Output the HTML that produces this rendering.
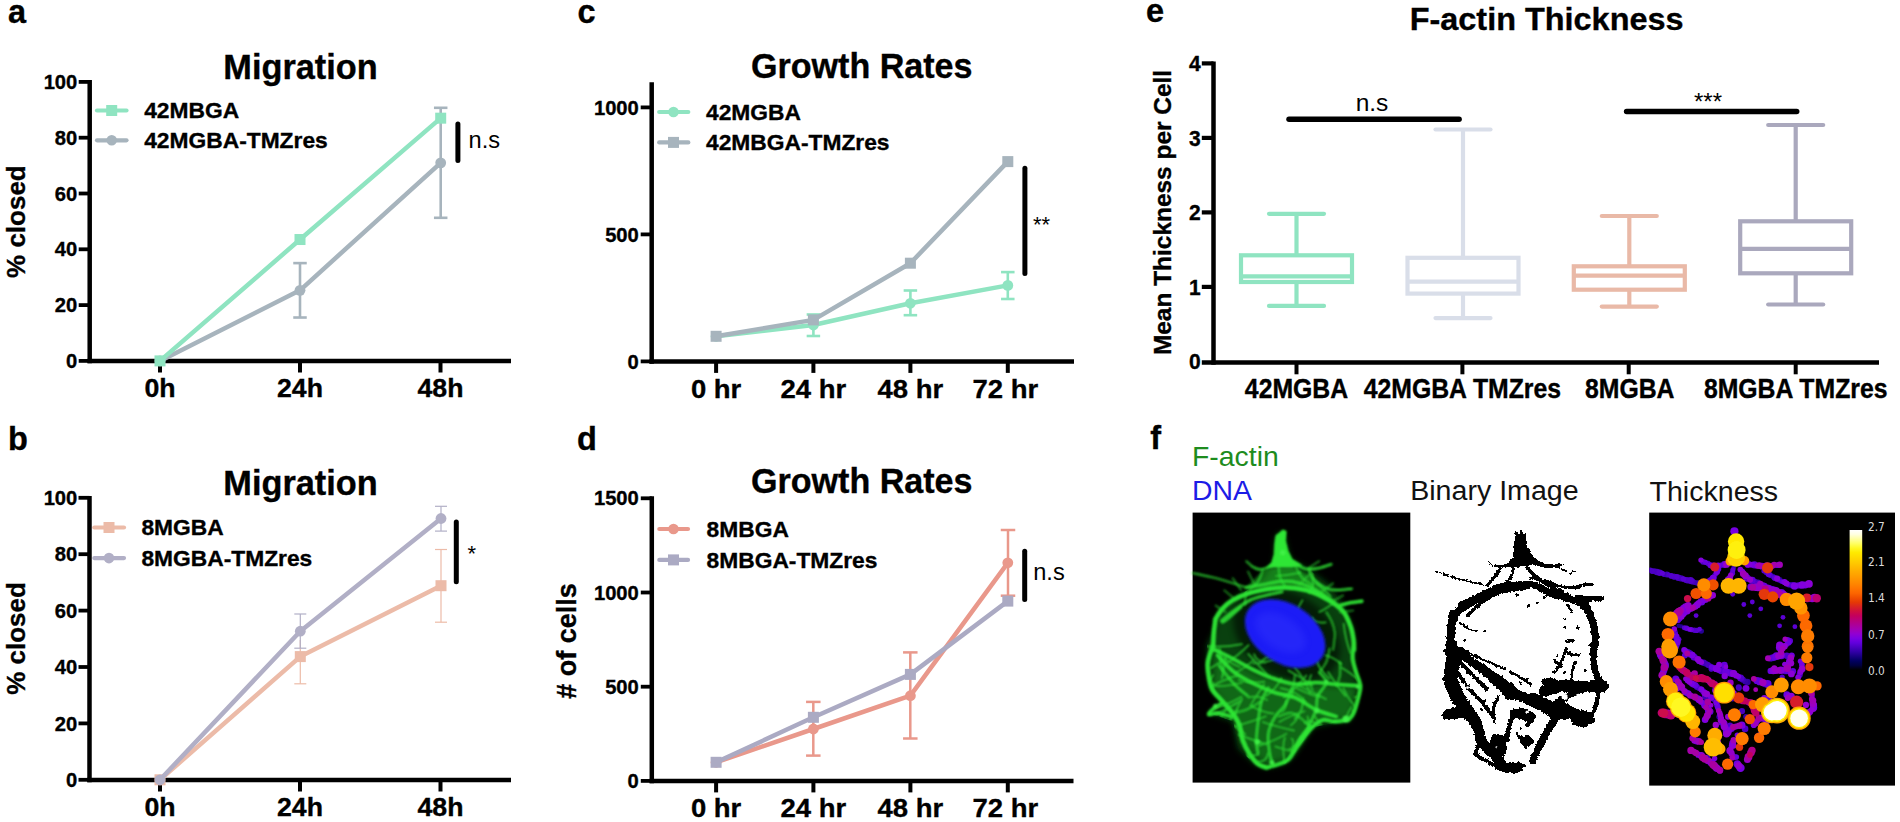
<!DOCTYPE html>
<html lang="en">
<head>
<meta charset="utf-8">
<title>Figure</title>
<style>
html,body{margin:0;padding:0;background:#fff;}
body{width:1900px;height:822px;overflow:hidden;}
svg{display:block;font-family:"Liberation Sans", sans-serif;}
</style>
</head>
<body>
<svg width="1900" height="822" viewBox="0 0 1900 822">
<rect width="1900" height="822" fill="#fff"/>
<text transform="translate(8 22.7) scale(1 1.045)" font-size="32.5" font-weight="bold" text-anchor="start" fill="#000" stroke="#000" stroke-width="0.35">a</text>
<text transform="translate(300.5 78.6) scale(1 1.04)" font-size="34.3" font-weight="bold" text-anchor="middle" fill="#000" stroke="#000" stroke-width="0.35">Migration</text>
<line x1="89.70" y1="80.00" x2="89.70" y2="363.25" stroke="#000" stroke-width="4.5" stroke-linecap="butt"/>
<line x1="87.45" y1="361.00" x2="511.00" y2="361.00" stroke="#000" stroke-width="4.5" stroke-linecap="butt"/>
<line x1="78.70" y1="360.90" x2="89.70" y2="360.90" stroke="#000" stroke-width="3.8" stroke-linecap="butt"/>
<text transform="translate(77.3 368.0) scale(1 0.99)" font-size="20.2" font-weight="bold" text-anchor="end" fill="#000" stroke="#000" stroke-width="0.35">0</text>
<line x1="78.70" y1="305.10" x2="89.70" y2="305.10" stroke="#000" stroke-width="3.8" stroke-linecap="butt"/>
<text transform="translate(77.3 312.2) scale(1 0.99)" font-size="20.2" font-weight="bold" text-anchor="end" fill="#000" stroke="#000" stroke-width="0.35">20</text>
<line x1="78.70" y1="249.30" x2="89.70" y2="249.30" stroke="#000" stroke-width="3.8" stroke-linecap="butt"/>
<text transform="translate(77.3 256.4) scale(1 0.99)" font-size="20.2" font-weight="bold" text-anchor="end" fill="#000" stroke="#000" stroke-width="0.35">40</text>
<line x1="78.70" y1="193.50" x2="89.70" y2="193.50" stroke="#000" stroke-width="3.8" stroke-linecap="butt"/>
<text transform="translate(77.3 200.59999999999997) scale(1 0.99)" font-size="20.2" font-weight="bold" text-anchor="end" fill="#000" stroke="#000" stroke-width="0.35">60</text>
<line x1="78.70" y1="137.70" x2="89.70" y2="137.70" stroke="#000" stroke-width="3.8" stroke-linecap="butt"/>
<text transform="translate(77.3 144.79999999999998) scale(1 0.99)" font-size="20.2" font-weight="bold" text-anchor="end" fill="#000" stroke="#000" stroke-width="0.35">80</text>
<line x1="78.70" y1="81.90" x2="89.70" y2="81.90" stroke="#000" stroke-width="3.8" stroke-linecap="butt"/>
<text transform="translate(77.3 88.99999999999997) scale(1 0.99)" font-size="20.2" font-weight="bold" text-anchor="end" fill="#000" stroke="#000" stroke-width="0.35">100</text>
<line x1="160.00" y1="361.00" x2="160.00" y2="372.50" stroke="#000" stroke-width="4" stroke-linecap="butt"/>
<text transform="translate(160 397.4) scale(1 0.957)" font-size="26.7" font-weight="bold" text-anchor="middle" fill="#000" stroke="#000" stroke-width="0.35">0h</text>
<line x1="300.00" y1="361.00" x2="300.00" y2="372.50" stroke="#000" stroke-width="4" stroke-linecap="butt"/>
<text transform="translate(300 397.4) scale(1 0.957)" font-size="26.7" font-weight="bold" text-anchor="middle" fill="#000" stroke="#000" stroke-width="0.35">24h</text>
<line x1="440.50" y1="361.00" x2="440.50" y2="372.50" stroke="#000" stroke-width="4" stroke-linecap="butt"/>
<text transform="translate(440.5 397.4) scale(1 0.957)" font-size="26.7" font-weight="bold" text-anchor="middle" fill="#000" stroke="#000" stroke-width="0.35">48h</text>
<text transform="translate(24.5 221.6) rotate(-90) scale(1 1.02)" font-size="26" font-weight="bold" text-anchor="middle" fill="#000" stroke="#000" stroke-width="0.35">% closed</text>
<line x1="300.00" y1="263.11" x2="300.00" y2="317.52" stroke="#a7b4bd" stroke-width="2.6" stroke-linecap="butt"/>
<line x1="293.25" y1="263.11" x2="306.75" y2="263.11" stroke="#a7b4bd" stroke-width="2.6" stroke-linecap="butt"/>
<line x1="293.25" y1="317.52" x2="306.75" y2="317.52" stroke="#a7b4bd" stroke-width="2.6" stroke-linecap="butt"/>
<line x1="440.70" y1="107.80" x2="440.70" y2="217.80" stroke="#a7b4bd" stroke-width="2.6" stroke-linecap="butt"/>
<line x1="433.95" y1="107.80" x2="447.45" y2="107.80" stroke="#a7b4bd" stroke-width="2.6" stroke-linecap="butt"/>
<line x1="433.95" y1="217.80" x2="447.45" y2="217.80" stroke="#a7b4bd" stroke-width="2.6" stroke-linecap="butt"/>
<polyline points="160.00,360.90 300.00,290.31 440.70,162.81" fill="none" stroke="#a7b4bd" stroke-width="4.5" stroke-linejoin="round"/>
<circle cx="160.00" cy="360.90" r="5.4" fill="#a7b4bd"/>
<circle cx="300.00" cy="290.31" r="5.4" fill="#a7b4bd"/>
<circle cx="440.70" cy="162.81" r="5.4" fill="#a7b4bd"/>
<polyline points="160.00,360.90 300.00,239.53 440.70,118.17" fill="none" stroke="#8fe4c1" stroke-width="4.5" stroke-linejoin="round"/>
<rect x="154.50" y="355.40" width="11" height="11" fill="#8fe4c1"/>
<rect x="294.50" y="234.03" width="11" height="11" fill="#8fe4c1"/>
<rect x="435.20" y="112.67" width="11" height="11" fill="#8fe4c1"/>
<line x1="97.00" y1="110.50" x2="126.50" y2="110.50" stroke="#8fe4c1" stroke-width="4.2" stroke-linecap="round"/>
<rect x="106.20" y="105.00" width="11" height="11" fill="#8fe4c1"/>
<text transform="translate(144.2 118.1) scale(1 0.96)" font-size="22.8" font-weight="bold" text-anchor="start" fill="#000" stroke="#000" stroke-width="0.35">42MBGA</text>
<line x1="97.00" y1="140.30" x2="126.50" y2="140.30" stroke="#a7b4bd" stroke-width="4.2" stroke-linecap="round"/>
<circle cx="111.70" cy="140.30" r="5.3" fill="#a7b4bd"/>
<text transform="translate(144.2 147.9) scale(1 0.96)" font-size="22.8" font-weight="bold" text-anchor="start" fill="#000" stroke="#000" stroke-width="0.35">42MGBA-TMZres</text>
<line x1="457.90" y1="124.00" x2="457.90" y2="160.50" stroke="#000" stroke-width="5" stroke-linecap="round"/>
<text transform="translate(468.6 148) scale(1 1.0)" font-size="23.6" font-weight="normal" text-anchor="start" fill="#000">n.s</text>
<text transform="translate(8 449.7) scale(1 1.045)" font-size="32.5" font-weight="bold" text-anchor="start" fill="#000" stroke="#000" stroke-width="0.35">b</text>
<text transform="translate(300.5 494.6) scale(1 1.04)" font-size="34.3" font-weight="bold" text-anchor="middle" fill="#000" stroke="#000" stroke-width="0.35">Migration</text>
<line x1="89.50" y1="496.00" x2="89.50" y2="782.25" stroke="#000" stroke-width="4.5" stroke-linecap="butt"/>
<line x1="87.25" y1="780.00" x2="511.00" y2="780.00" stroke="#000" stroke-width="4.5" stroke-linecap="butt"/>
<line x1="78.50" y1="779.80" x2="89.50" y2="779.80" stroke="#000" stroke-width="3.8" stroke-linecap="butt"/>
<text transform="translate(77.3 786.9) scale(1 0.99)" font-size="20.2" font-weight="bold" text-anchor="end" fill="#000" stroke="#000" stroke-width="0.35">0</text>
<line x1="78.50" y1="723.40" x2="89.50" y2="723.40" stroke="#000" stroke-width="3.8" stroke-linecap="butt"/>
<text transform="translate(77.3 730.5) scale(1 0.99)" font-size="20.2" font-weight="bold" text-anchor="end" fill="#000" stroke="#000" stroke-width="0.35">20</text>
<line x1="78.50" y1="667.00" x2="89.50" y2="667.00" stroke="#000" stroke-width="3.8" stroke-linecap="butt"/>
<text transform="translate(77.3 674.1) scale(1 0.99)" font-size="20.2" font-weight="bold" text-anchor="end" fill="#000" stroke="#000" stroke-width="0.35">40</text>
<line x1="78.50" y1="610.60" x2="89.50" y2="610.60" stroke="#000" stroke-width="3.8" stroke-linecap="butt"/>
<text transform="translate(77.3 617.6999999999999) scale(1 0.99)" font-size="20.2" font-weight="bold" text-anchor="end" fill="#000" stroke="#000" stroke-width="0.35">60</text>
<line x1="78.50" y1="554.20" x2="89.50" y2="554.20" stroke="#000" stroke-width="3.8" stroke-linecap="butt"/>
<text transform="translate(77.3 561.3) scale(1 0.99)" font-size="20.2" font-weight="bold" text-anchor="end" fill="#000" stroke="#000" stroke-width="0.35">80</text>
<line x1="78.50" y1="497.80" x2="89.50" y2="497.80" stroke="#000" stroke-width="3.8" stroke-linecap="butt"/>
<text transform="translate(77.3 504.9) scale(1 0.99)" font-size="20.2" font-weight="bold" text-anchor="end" fill="#000" stroke="#000" stroke-width="0.35">100</text>
<line x1="160.00" y1="780.00" x2="160.00" y2="791.50" stroke="#000" stroke-width="4" stroke-linecap="butt"/>
<text transform="translate(160 816.0) scale(1 0.957)" font-size="26.7" font-weight="bold" text-anchor="middle" fill="#000" stroke="#000" stroke-width="0.35">0h</text>
<line x1="300.00" y1="780.00" x2="300.00" y2="791.50" stroke="#000" stroke-width="4" stroke-linecap="butt"/>
<text transform="translate(300 816.0) scale(1 0.957)" font-size="26.7" font-weight="bold" text-anchor="middle" fill="#000" stroke="#000" stroke-width="0.35">24h</text>
<line x1="440.50" y1="780.00" x2="440.50" y2="791.50" stroke="#000" stroke-width="4" stroke-linecap="butt"/>
<text transform="translate(440.5 816.0) scale(1 0.957)" font-size="26.7" font-weight="bold" text-anchor="middle" fill="#000" stroke="#000" stroke-width="0.35">48h</text>
<text transform="translate(24.5 638.5) rotate(-90) scale(1 1.02)" font-size="26" font-weight="bold" text-anchor="middle" fill="#000" stroke="#000" stroke-width="0.35">% closed</text>
<line x1="300.30" y1="640.00" x2="300.30" y2="683.80" stroke="#ecbba8" stroke-width="1.2" stroke-linecap="butt"/>
<line x1="294.30" y1="683.80" x2="306.30" y2="683.80" stroke="#ecbba8" stroke-width="1.2" stroke-linecap="butt"/>
<line x1="441.00" y1="549.50" x2="441.00" y2="622.20" stroke="#ecbba8" stroke-width="1.2" stroke-linecap="butt"/>
<line x1="435.00" y1="549.50" x2="447.00" y2="549.50" stroke="#ecbba8" stroke-width="1.2" stroke-linecap="butt"/>
<line x1="435.00" y1="622.20" x2="447.00" y2="622.20" stroke="#ecbba8" stroke-width="1.2" stroke-linecap="butt"/>
<polyline points="160.00,779.80 300.30,656.60 441.00,585.70" fill="none" stroke="#ecbba8" stroke-width="4.5" stroke-linejoin="round"/>
<rect x="154.50" y="774.30" width="11" height="11" fill="#ecbba8"/>
<rect x="294.80" y="651.10" width="11" height="11" fill="#ecbba8"/>
<rect x="435.50" y="580.20" width="11" height="11" fill="#ecbba8"/>
<line x1="300.30" y1="614.00" x2="300.30" y2="648.20" stroke="#b1afc6" stroke-width="1.2" stroke-linecap="butt"/>
<line x1="294.30" y1="614.00" x2="306.30" y2="614.00" stroke="#b1afc6" stroke-width="1.2" stroke-linecap="butt"/>
<line x1="294.30" y1="648.20" x2="306.30" y2="648.20" stroke="#b1afc6" stroke-width="1.2" stroke-linecap="butt"/>
<line x1="441.00" y1="506.30" x2="441.00" y2="531.10" stroke="#b1afc6" stroke-width="1.2" stroke-linecap="butt"/>
<line x1="435.00" y1="506.30" x2="447.00" y2="506.30" stroke="#b1afc6" stroke-width="1.2" stroke-linecap="butt"/>
<line x1="435.00" y1="531.10" x2="447.00" y2="531.10" stroke="#b1afc6" stroke-width="1.2" stroke-linecap="butt"/>
<polyline points="160.00,779.80 300.30,631.20 441.00,518.50" fill="none" stroke="#b1afc6" stroke-width="4.5" stroke-linejoin="round"/>
<circle cx="160.00" cy="779.80" r="5.4" fill="#b1afc6"/>
<circle cx="300.30" cy="631.20" r="5.4" fill="#b1afc6"/>
<circle cx="441.00" cy="518.50" r="5.4" fill="#b1afc6"/>
<line x1="94.30" y1="527.50" x2="124.00" y2="527.50" stroke="#ecbba8" stroke-width="4.2" stroke-linecap="round"/>
<rect x="103.50" y="522.00" width="11" height="11" fill="#ecbba8"/>
<text transform="translate(141.4 535.1) scale(1 0.96)" font-size="22.8" font-weight="bold" text-anchor="start" fill="#000" stroke="#000" stroke-width="0.35">8MGBA</text>
<line x1="94.30" y1="558.10" x2="124.00" y2="558.10" stroke="#b1afc6" stroke-width="4.2" stroke-linecap="round"/>
<circle cx="109.00" cy="558.10" r="5.3" fill="#b1afc6"/>
<text transform="translate(141.4 565.7) scale(1 0.96)" font-size="22.8" font-weight="bold" text-anchor="start" fill="#000" stroke="#000" stroke-width="0.35">8MGBA-TMZres</text>
<line x1="456.30" y1="521.90" x2="456.30" y2="581.70" stroke="#000" stroke-width="5" stroke-linecap="round"/>
<text transform="translate(471.8 560.5) scale(1 1.0)" font-size="22" font-weight="normal" text-anchor="middle" fill="#000">*</text>
<text transform="translate(577.5 22.7) scale(1 1.045)" font-size="32.5" font-weight="bold" text-anchor="start" fill="#000" stroke="#000" stroke-width="0.35">c</text>
<text transform="translate(861.7 78.2) scale(1 1.04)" font-size="34.1" font-weight="bold" text-anchor="middle" fill="#000" stroke="#000" stroke-width="0.35">Growth Rates</text>
<line x1="651.70" y1="82.20" x2="651.70" y2="363.65" stroke="#000" stroke-width="4.5" stroke-linecap="butt"/>
<line x1="649.45" y1="361.40" x2="1074.00" y2="361.40" stroke="#000" stroke-width="4.5" stroke-linecap="butt"/>
<line x1="640.70" y1="361.40" x2="651.70" y2="361.40" stroke="#000" stroke-width="3.8" stroke-linecap="butt"/>
<text transform="translate(638.8 368.5) scale(1 0.99)" font-size="20.2" font-weight="bold" text-anchor="end" fill="#000" stroke="#000" stroke-width="0.35">0</text>
<line x1="640.70" y1="234.40" x2="651.70" y2="234.40" stroke="#000" stroke-width="3.8" stroke-linecap="butt"/>
<text transform="translate(638.8 241.49999999999997) scale(1 0.99)" font-size="20.2" font-weight="bold" text-anchor="end" fill="#000" stroke="#000" stroke-width="0.35">500</text>
<line x1="640.70" y1="107.40" x2="651.70" y2="107.40" stroke="#000" stroke-width="3.8" stroke-linecap="butt"/>
<text transform="translate(638.8 114.49999999999997) scale(1 0.99)" font-size="20.2" font-weight="bold" text-anchor="end" fill="#000" stroke="#000" stroke-width="0.35">1000</text>
<line x1="716.10" y1="361.40" x2="716.10" y2="372.90" stroke="#000" stroke-width="4" stroke-linecap="butt"/>
<text transform="translate(716.1 397.6) scale(1 0.957)" font-size="27.5" font-weight="bold" text-anchor="middle" fill="#000" stroke="#000" stroke-width="0.35">0 hr</text>
<line x1="813.40" y1="361.40" x2="813.40" y2="372.90" stroke="#000" stroke-width="4" stroke-linecap="butt"/>
<text transform="translate(813.4 397.6) scale(1 0.957)" font-size="27.5" font-weight="bold" text-anchor="middle" fill="#000" stroke="#000" stroke-width="0.35">24 hr</text>
<line x1="910.40" y1="361.40" x2="910.40" y2="372.90" stroke="#000" stroke-width="4" stroke-linecap="butt"/>
<text transform="translate(910.4 397.6) scale(1 0.957)" font-size="27.5" font-weight="bold" text-anchor="middle" fill="#000" stroke="#000" stroke-width="0.35">48 hr</text>
<line x1="1007.80" y1="361.40" x2="1007.80" y2="372.90" stroke="#000" stroke-width="4" stroke-linecap="butt"/>
<text transform="translate(1005.3 397.6) scale(1 0.957)" font-size="27.5" font-weight="bold" text-anchor="middle" fill="#000" stroke="#000" stroke-width="0.35">72 hr</text>
<line x1="813.40" y1="314.50" x2="813.40" y2="336.00" stroke="#8fe4c1" stroke-width="2.6" stroke-linecap="butt"/>
<line x1="806.65" y1="314.50" x2="820.15" y2="314.50" stroke="#8fe4c1" stroke-width="2.6" stroke-linecap="butt"/>
<line x1="806.65" y1="336.00" x2="820.15" y2="336.00" stroke="#8fe4c1" stroke-width="2.6" stroke-linecap="butt"/>
<line x1="910.40" y1="290.50" x2="910.40" y2="315.20" stroke="#8fe4c1" stroke-width="2.6" stroke-linecap="butt"/>
<line x1="903.65" y1="290.50" x2="917.15" y2="290.50" stroke="#8fe4c1" stroke-width="2.6" stroke-linecap="butt"/>
<line x1="903.65" y1="315.20" x2="917.15" y2="315.20" stroke="#8fe4c1" stroke-width="2.6" stroke-linecap="butt"/>
<line x1="1007.80" y1="272.10" x2="1007.80" y2="299.00" stroke="#8fe4c1" stroke-width="2.6" stroke-linecap="butt"/>
<line x1="1001.05" y1="272.10" x2="1014.55" y2="272.10" stroke="#8fe4c1" stroke-width="2.6" stroke-linecap="butt"/>
<line x1="1001.05" y1="299.00" x2="1014.55" y2="299.00" stroke="#8fe4c1" stroke-width="2.6" stroke-linecap="butt"/>
<polyline points="716.10,336.30 813.40,325.00 910.40,303.30 1007.80,285.40" fill="none" stroke="#8fe4c1" stroke-width="4.5" stroke-linejoin="round"/>
<circle cx="716.10" cy="336.30" r="5.4" fill="#8fe4c1"/>
<circle cx="813.40" cy="325.00" r="5.4" fill="#8fe4c1"/>
<circle cx="910.40" cy="303.30" r="5.4" fill="#8fe4c1"/>
<circle cx="1007.80" cy="285.40" r="5.4" fill="#8fe4c1"/>
<polyline points="716.10,336.30 813.40,319.90 910.40,263.20 1007.80,161.60" fill="none" stroke="#a7b4bd" stroke-width="4.5" stroke-linejoin="round"/>
<rect x="710.60" y="330.80" width="11" height="11" fill="#a7b4bd"/>
<rect x="807.90" y="314.40" width="11" height="11" fill="#a7b4bd"/>
<rect x="904.90" y="257.70" width="11" height="11" fill="#a7b4bd"/>
<rect x="1002.30" y="156.10" width="11" height="11" fill="#a7b4bd"/>
<line x1="659.20" y1="112.00" x2="688.30" y2="112.00" stroke="#8fe4c1" stroke-width="4.2" stroke-linecap="round"/>
<circle cx="673.50" cy="112.00" r="5.3" fill="#8fe4c1"/>
<text transform="translate(706 119.6) scale(1 0.96)" font-size="22.8" font-weight="bold" text-anchor="start" fill="#000" stroke="#000" stroke-width="0.35">42MGBA</text>
<line x1="659.20" y1="142.40" x2="688.30" y2="142.40" stroke="#a7b4bd" stroke-width="4.2" stroke-linecap="round"/>
<rect x="668.00" y="136.90" width="11" height="11" fill="#a7b4bd"/>
<text transform="translate(706 150.0) scale(1 0.96)" font-size="22.8" font-weight="bold" text-anchor="start" fill="#000" stroke="#000" stroke-width="0.35">42MBGA-TMZres</text>
<line x1="1024.90" y1="168.30" x2="1024.90" y2="273.50" stroke="#000" stroke-width="5" stroke-linecap="round"/>
<text transform="translate(1033 232) scale(1 1.0)" font-size="22" font-weight="normal" text-anchor="start" fill="#000">**</text>
<text transform="translate(577 449.7) scale(1 1.045)" font-size="32.5" font-weight="bold" text-anchor="start" fill="#000" stroke="#000" stroke-width="0.35">d</text>
<text transform="translate(861.7 493.3) scale(1 1.04)" font-size="34.1" font-weight="bold" text-anchor="middle" fill="#000" stroke="#000" stroke-width="0.35">Growth Rates</text>
<line x1="651.80" y1="496.30" x2="651.80" y2="783.15" stroke="#000" stroke-width="4.5" stroke-linecap="butt"/>
<line x1="649.55" y1="780.90" x2="1073.50" y2="780.90" stroke="#000" stroke-width="4.5" stroke-linecap="butt"/>
<line x1="640.80" y1="780.90" x2="651.80" y2="780.90" stroke="#000" stroke-width="3.8" stroke-linecap="butt"/>
<text transform="translate(638.8 788.0) scale(1 0.99)" font-size="20.2" font-weight="bold" text-anchor="end" fill="#000" stroke="#000" stroke-width="0.35">0</text>
<line x1="640.80" y1="686.70" x2="651.80" y2="686.70" stroke="#000" stroke-width="3.8" stroke-linecap="butt"/>
<text transform="translate(638.8 693.8) scale(1 0.99)" font-size="20.2" font-weight="bold" text-anchor="end" fill="#000" stroke="#000" stroke-width="0.35">500</text>
<line x1="640.80" y1="592.50" x2="651.80" y2="592.50" stroke="#000" stroke-width="3.8" stroke-linecap="butt"/>
<text transform="translate(638.8 599.6) scale(1 0.99)" font-size="20.2" font-weight="bold" text-anchor="end" fill="#000" stroke="#000" stroke-width="0.35">1000</text>
<line x1="640.80" y1="498.30" x2="651.80" y2="498.30" stroke="#000" stroke-width="3.8" stroke-linecap="butt"/>
<text transform="translate(638.8 505.4) scale(1 0.99)" font-size="20.2" font-weight="bold" text-anchor="end" fill="#000" stroke="#000" stroke-width="0.35">1500</text>
<line x1="716.10" y1="780.90" x2="716.10" y2="792.40" stroke="#000" stroke-width="4" stroke-linecap="butt"/>
<text transform="translate(716.1 816.6) scale(1 0.957)" font-size="27.5" font-weight="bold" text-anchor="middle" fill="#000" stroke="#000" stroke-width="0.35">0 hr</text>
<line x1="813.40" y1="780.90" x2="813.40" y2="792.40" stroke="#000" stroke-width="4" stroke-linecap="butt"/>
<text transform="translate(813.4 816.6) scale(1 0.957)" font-size="27.5" font-weight="bold" text-anchor="middle" fill="#000" stroke="#000" stroke-width="0.35">24 hr</text>
<line x1="910.40" y1="780.90" x2="910.40" y2="792.40" stroke="#000" stroke-width="4" stroke-linecap="butt"/>
<text transform="translate(910.4 816.6) scale(1 0.957)" font-size="27.5" font-weight="bold" text-anchor="middle" fill="#000" stroke="#000" stroke-width="0.35">48 hr</text>
<line x1="1007.80" y1="780.90" x2="1007.80" y2="792.40" stroke="#000" stroke-width="4" stroke-linecap="butt"/>
<text transform="translate(1005.3 816.6) scale(1 0.957)" font-size="27.5" font-weight="bold" text-anchor="middle" fill="#000" stroke="#000" stroke-width="0.35">72 hr</text>
<text transform="translate(576 641) rotate(-90) scale(1 1.02)" font-size="27" font-weight="bold" text-anchor="middle" fill="#000" stroke="#000" stroke-width="0.35"># of cells</text>
<line x1="813.30" y1="701.90" x2="813.30" y2="755.60" stroke="#e9988b" stroke-width="2.5" stroke-linecap="butt"/>
<line x1="806.05" y1="701.90" x2="820.55" y2="701.90" stroke="#e9988b" stroke-width="2.5" stroke-linecap="butt"/>
<line x1="806.05" y1="755.60" x2="820.55" y2="755.60" stroke="#e9988b" stroke-width="2.5" stroke-linecap="butt"/>
<line x1="910.30" y1="652.40" x2="910.30" y2="738.50" stroke="#e9988b" stroke-width="2.5" stroke-linecap="butt"/>
<line x1="903.05" y1="652.40" x2="917.55" y2="652.40" stroke="#e9988b" stroke-width="2.5" stroke-linecap="butt"/>
<line x1="903.05" y1="738.50" x2="917.55" y2="738.50" stroke="#e9988b" stroke-width="2.5" stroke-linecap="butt"/>
<line x1="1008.00" y1="530.00" x2="1008.00" y2="595.70" stroke="#e9988b" stroke-width="2.5" stroke-linecap="butt"/>
<line x1="1000.75" y1="530.00" x2="1015.25" y2="530.00" stroke="#e9988b" stroke-width="2.5" stroke-linecap="butt"/>
<line x1="1000.75" y1="595.70" x2="1015.25" y2="595.70" stroke="#e9988b" stroke-width="2.5" stroke-linecap="butt"/>
<polyline points="716.10,762.30 813.40,729.00 910.40,695.70 1007.80,562.80" fill="none" stroke="#e9988b" stroke-width="4.5" stroke-linejoin="round"/>
<circle cx="716.10" cy="762.30" r="5.4" fill="#e9988b"/>
<circle cx="813.40" cy="729.00" r="5.4" fill="#e9988b"/>
<circle cx="910.40" cy="695.70" r="5.4" fill="#e9988b"/>
<circle cx="1007.80" cy="562.80" r="5.4" fill="#e9988b"/>
<polyline points="716.10,762.30 813.40,717.30 910.40,674.40 1007.80,601.10" fill="none" stroke="#abaac3" stroke-width="4.5" stroke-linejoin="round"/>
<rect x="710.60" y="756.80" width="11" height="11" fill="#abaac3"/>
<rect x="807.90" y="711.80" width="11" height="11" fill="#abaac3"/>
<rect x="904.90" y="668.90" width="11" height="11" fill="#abaac3"/>
<rect x="1002.30" y="595.60" width="11" height="11" fill="#abaac3"/>
<line x1="659.30" y1="529.00" x2="688.00" y2="529.00" stroke="#e9988b" stroke-width="4.2" stroke-linecap="round"/>
<circle cx="673.50" cy="529.00" r="5.3" fill="#e9988b"/>
<text transform="translate(706.6 536.6) scale(1 0.96)" font-size="22.8" font-weight="bold" text-anchor="start" fill="#000" stroke="#000" stroke-width="0.35">8MBGA</text>
<line x1="659.30" y1="559.90" x2="688.00" y2="559.90" stroke="#abaac3" stroke-width="4.2" stroke-linecap="round"/>
<rect x="668.00" y="554.40" width="11" height="11" fill="#abaac3"/>
<text transform="translate(706.6 567.5) scale(1 0.96)" font-size="22.8" font-weight="bold" text-anchor="start" fill="#000" stroke="#000" stroke-width="0.35">8MBGA-TMZres</text>
<line x1="1024.70" y1="551.20" x2="1024.70" y2="599.50" stroke="#000" stroke-width="5" stroke-linecap="round"/>
<text transform="translate(1033.2 580) scale(1 1.0)" font-size="23.6" font-weight="normal" text-anchor="start" fill="#000">n.s</text>
<text transform="translate(1146 22.2) scale(1 1.045)" font-size="32.5" font-weight="bold" text-anchor="start" fill="#000" stroke="#000" stroke-width="0.35">e</text>
<text transform="translate(1546.6 29.5) scale(1 0.99)" font-size="32.45" font-weight="bold" text-anchor="middle" fill="#000" stroke="#000" stroke-width="0.35">F-actin Thickness</text>
<line x1="1213.50" y1="61.40" x2="1213.50" y2="364.75" stroke="#000" stroke-width="4.5" stroke-linecap="butt"/>
<line x1="1201.80" y1="362.50" x2="1879.00" y2="362.50" stroke="#000" stroke-width="4.5" stroke-linecap="butt"/>
<line x1="1201.80" y1="286.90" x2="1213.50" y2="286.90" stroke="#000" stroke-width="4.2" stroke-linecap="butt"/>
<line x1="1201.80" y1="212.40" x2="1213.50" y2="212.40" stroke="#000" stroke-width="4.2" stroke-linecap="butt"/>
<line x1="1201.80" y1="137.90" x2="1213.50" y2="137.90" stroke="#000" stroke-width="4.2" stroke-linecap="butt"/>
<line x1="1201.80" y1="63.40" x2="1213.50" y2="63.40" stroke="#000" stroke-width="4.2" stroke-linecap="butt"/>
<text transform="translate(1200.6 369.2) scale(1 1.09)" font-size="21" font-weight="bold" text-anchor="end" fill="#000" stroke="#000" stroke-width="0.35">0</text>
<text transform="translate(1200.6 294.7) scale(1 1.09)" font-size="21" font-weight="bold" text-anchor="end" fill="#000" stroke="#000" stroke-width="0.35">1</text>
<text transform="translate(1200.6 220.2) scale(1 1.09)" font-size="21" font-weight="bold" text-anchor="end" fill="#000" stroke="#000" stroke-width="0.35">2</text>
<text transform="translate(1200.6 145.7) scale(1 1.09)" font-size="21" font-weight="bold" text-anchor="end" fill="#000" stroke="#000" stroke-width="0.35">3</text>
<text transform="translate(1200.6 71.19999999999997) scale(1 1.09)" font-size="21" font-weight="bold" text-anchor="end" fill="#000" stroke="#000" stroke-width="0.35">4</text>
<line x1="1296.50" y1="362.50" x2="1296.50" y2="374.30" stroke="#000" stroke-width="4" stroke-linecap="butt"/>
<text transform="translate(1296.5 398.3) scale(1 1.1)" font-size="24.8" font-weight="bold" text-anchor="middle" fill="#000" stroke="#000" stroke-width="0.35">42MGBA</text>
<line x1="1462.40" y1="362.50" x2="1462.40" y2="374.30" stroke="#000" stroke-width="4" stroke-linecap="butt"/>
<text transform="translate(1462.4 398.3) scale(1 1.1)" font-size="24.8" font-weight="bold" text-anchor="middle" fill="#000" stroke="#000" stroke-width="0.35">42MGBA TMZres</text>
<line x1="1628.70" y1="362.50" x2="1628.70" y2="374.30" stroke="#000" stroke-width="4" stroke-linecap="butt"/>
<text transform="translate(1629.7 398.3) scale(1 1.1)" font-size="24.8" font-weight="bold" text-anchor="middle" fill="#000" stroke="#000" stroke-width="0.35">8MGBA</text>
<line x1="1795.70" y1="362.50" x2="1795.70" y2="374.30" stroke="#000" stroke-width="4" stroke-linecap="butt"/>
<text transform="translate(1795.7 398.3) scale(1 1.1)" font-size="24.8" font-weight="bold" text-anchor="middle" fill="#000" stroke="#000" stroke-width="0.35">8MGBA TMZres</text>
<text transform="translate(1170.5 212.5) rotate(-90) scale(1 1.0)" font-size="24.45" font-weight="bold" text-anchor="middle" fill="#000" stroke="#000" stroke-width="0.35">Mean Thickness per Cell</text>
<line x1="1296.50" y1="213.80" x2="1296.50" y2="255.30" stroke="#8fe4c1" stroke-width="4.2" stroke-linecap="butt"/>
<line x1="1296.50" y1="282.00" x2="1296.50" y2="305.90" stroke="#8fe4c1" stroke-width="4.2" stroke-linecap="butt"/>
<line x1="1269.00" y1="213.80" x2="1324.00" y2="213.80" stroke="#8fe4c1" stroke-width="4.2" stroke-linecap="round"/>
<line x1="1269.00" y1="305.90" x2="1324.00" y2="305.90" stroke="#8fe4c1" stroke-width="4.2" stroke-linecap="round"/>
<rect x="1241.00" y="255.30" width="111" height="26.70" fill="#fff" stroke="#8fe4c1" stroke-width="4.2"/>
<line x1="1241.00" y1="276.40" x2="1352.00" y2="276.40" stroke="#8fe4c1" stroke-width="4.2" stroke-linecap="butt"/>
<line x1="1463.00" y1="129.50" x2="1463.00" y2="257.80" stroke="#d9dee9" stroke-width="4.2" stroke-linecap="butt"/>
<line x1="1463.00" y1="293.60" x2="1463.00" y2="318.10" stroke="#d9dee9" stroke-width="4.2" stroke-linecap="butt"/>
<line x1="1435.50" y1="129.50" x2="1490.50" y2="129.50" stroke="#d9dee9" stroke-width="4.2" stroke-linecap="round"/>
<line x1="1435.50" y1="318.10" x2="1490.50" y2="318.10" stroke="#d9dee9" stroke-width="4.2" stroke-linecap="round"/>
<rect x="1407.50" y="257.80" width="111" height="35.80" fill="#fff" stroke="#d9dee9" stroke-width="4.2"/>
<line x1="1407.50" y1="281.60" x2="1518.50" y2="281.60" stroke="#d9dee9" stroke-width="4.2" stroke-linecap="butt"/>
<line x1="1629.30" y1="216.00" x2="1629.30" y2="266.30" stroke="#e9b9a7" stroke-width="4.2" stroke-linecap="butt"/>
<line x1="1629.30" y1="289.70" x2="1629.30" y2="306.60" stroke="#e9b9a7" stroke-width="4.2" stroke-linecap="butt"/>
<line x1="1601.80" y1="216.00" x2="1656.80" y2="216.00" stroke="#e9b9a7" stroke-width="4.2" stroke-linecap="round"/>
<line x1="1601.80" y1="306.60" x2="1656.80" y2="306.60" stroke="#e9b9a7" stroke-width="4.2" stroke-linecap="round"/>
<rect x="1573.80" y="266.30" width="111" height="23.40" fill="#fff" stroke="#e9b9a7" stroke-width="4.2"/>
<line x1="1573.80" y1="275.60" x2="1684.80" y2="275.60" stroke="#e9b9a7" stroke-width="4.2" stroke-linecap="butt"/>
<line x1="1795.70" y1="125.00" x2="1795.70" y2="221.30" stroke="#aaa8bd" stroke-width="4.2" stroke-linecap="butt"/>
<line x1="1795.70" y1="273.30" x2="1795.70" y2="304.50" stroke="#aaa8bd" stroke-width="4.2" stroke-linecap="butt"/>
<line x1="1768.20" y1="125.00" x2="1823.20" y2="125.00" stroke="#aaa8bd" stroke-width="4.2" stroke-linecap="round"/>
<line x1="1768.20" y1="304.50" x2="1823.20" y2="304.50" stroke="#aaa8bd" stroke-width="4.2" stroke-linecap="round"/>
<rect x="1740.20" y="221.30" width="111" height="52.00" fill="#fff" stroke="#aaa8bd" stroke-width="4.2"/>
<line x1="1740.20" y1="248.80" x2="1851.20" y2="248.80" stroke="#aaa8bd" stroke-width="4.2" stroke-linecap="butt"/>
<line x1="1289.00" y1="119.20" x2="1459.10" y2="119.20" stroke="#000" stroke-width="5.5" stroke-linecap="round"/>
<text transform="translate(1372 110.5) scale(1 1.0)" font-size="24.5" font-weight="normal" text-anchor="middle" fill="#000">n.s</text>
<line x1="1626.60" y1="111.60" x2="1796.70" y2="111.60" stroke="#000" stroke-width="5.5" stroke-linecap="round"/>
<text transform="translate(1708 110) scale(1 1.0)" font-size="24" font-weight="normal" text-anchor="middle" fill="#000">***</text>
<text transform="translate(1150.3 448.7) scale(1 1.045)" font-size="32.5" font-weight="bold" text-anchor="start" fill="#000" stroke="#000" stroke-width="0.35">f</text>
<text transform="translate(1192 466.3) scale(1 0.975)" font-size="28.4" font-weight="normal" text-anchor="start" fill="#1e8c1e">F-actin</text>
<text transform="translate(1192 500.3) scale(1 0.975)" font-size="28.4" font-weight="normal" text-anchor="start" fill="#1c1ce6">DNA</text>
<text transform="translate(1410.2 500.3) scale(1 0.95)" font-size="28.6" font-weight="normal" text-anchor="start" fill="#111">Binary Image</text>
<text transform="translate(1649.5 500.6) scale(1 0.95)" font-size="28.6" font-weight="normal" text-anchor="start" fill="#111">Thickness</text>
<defs>
<filter id="bl05" x="-5%" y="-5%" width="110%" height="110%"><feGaussianBlur stdDeviation="0.5"/></filter>
<filter id="bl07" x="-5%" y="-5%" width="110%" height="110%"><feGaussianBlur stdDeviation="0.95"/></filter>
<filter id="bl1" x="-5%" y="-5%" width="110%" height="110%"><feGaussianBlur stdDeviation="0.9"/></filter>
<filter id="bl2" x="-20%" y="-20%" width="140%" height="140%"><feGaussianBlur stdDeviation="1.8"/></filter>
<filter id="bl3" x="-10%" y="-10%" width="120%" height="120%"><feGaussianBlur stdDeviation="3"/></filter>
<filter id="rag" x="-5%" y="-5%" width="110%" height="110%">
<feTurbulence type="fractalNoise" baseFrequency="0.35" numOctaves="2" seed="3" result="n"/>
<feDisplacementMap in="SourceGraphic" in2="n" scale="3.2" xChannelSelector="R" yChannelSelector="G" result="d"/>
<feComponentTransfer in="d"><feFuncA type="discrete" tableValues="0 0 1 1"/></feComponentTransfer>
</filter>
</defs>
<g transform="translate(1192.6 512.6)">
<rect width="217.7" height="270.0" fill="#000"/>
<clipPath id="cb1"><path d="M90.2 18.7 L97.9 46.8 L116.6 57 L137.1 72.3 L150.7 92.8 L160.1 116.6 L161.8 137.1 L160.9 152.8 L166 175 L160.9 200.5 L155.8 209 L142.2 209.9 L120 215 L103 238.9 L92.8 250.8 L74 255.4 L62.1 251.6 L45.1 235.4 L40.8 209 L16.1 200.5 L30.6 190.3 L17.8 175 L15.3 152.8 L14.4 132.4 L21.2 120 L23.8 103 L40 86 L55.3 77.5 L72.3 65.5 L81.7 48.5 L83.4 23Z"/></clipPath>
<g filter="url(#bl3)" opacity="0.7">
<path d="M90.2 18.7 L97.9 46.8 L116.6 57 L137.1 72.3 L150.7 92.8 L160.1 116.6 L161.8 137.1 L160.9 152.8 L166 175 L160.9 200.5 L155.8 209 L142.2 209.9 L120 215 L103 238.9 L92.8 250.8 L74 255.4 L62.1 251.6 L45.1 235.4 L40.8 209 L16.1 200.5 L30.6 190.3 L17.8 175 L15.3 152.8 L14.4 132.4 L21.2 120 L23.8 103 L40 86 L55.3 77.5 L72.3 65.5 L81.7 48.5 L83.4 23Z" fill="#0c5c12"/>
</g>
<g filter="url(#bl3)" opacity="0.55"><ellipse cx="94" cy="122" rx="58" ry="41" transform="rotate(33 94 122)" fill="#000"/></g>
<g filter="url(#bl2)" opacity="0.55"><path d="M53.6 74.9 L72.3 56.2 L99.6 54.5 L120 65.5 L147.3 94.5 L130.3 84.3 L113.2 77.5 L92.8 74.9 L74 76.6Z" fill="#22b428"/></g>
<g filter="url(#bl3)" opacity="0.35"><path d="M22.9 139.2 L65.5 163.1 L116.6 173.3 L164.3 175 L157.5 205.6 L123.4 207.3 L99.6 244.8 L72.3 251.6 L48.5 227.8 L38.3 200.5 L19.5 175Z" fill="#22b428"/></g>
<g clip-path="url(#cb1)"><g filter="url(#bl1)" fill="none" stroke="#30dc36" stroke-width="1.7" stroke-linecap="round" opacity="0.8">
<path d="M84.5 102.6Q71.9 105.9 59.1 107.5"/>
<path d="M45.1 197.3Q34.2 208.1 31.4 222.8"/>
<path d="M31.3 230.7Q31.8 240.3 22.7 240.6"/>
<path d="M114.1 208.9Q120.7 207.3 126.8 214.4"/>
<path d="M46 167.1Q58.3 171.5 71.9 169.1"/>
<path d="M94.3 109.4Q93.9 119.7 94.3 134.4"/>
<path d="M164.7 251.5Q148.6 255.1 136.2 264"/>
<path d="M60.5 147.9Q54.9 153.3 42.4 160.9"/>
<path d="M158.8 234.9Q172.7 234.6 178.3 234.9"/>
<path d="M162.1 184.5Q179.7 185 191.7 190"/>
<path d="M30.8 83.3Q10.2 82.3 -2.7 86.3"/>
<path d="M32.9 146.7Q26 150.6 17.9 155.6"/>
<path d="M46 222Q56.3 226.1 74.2 231.8"/>
<path d="M49.3 170.2Q30 175.3 14.5 172.8"/>
<path d="M49 184.2Q31.2 194.5 21.4 195"/>
<path d="M49.3 77Q38.8 78.6 32.3 88.8"/>
<path d="M31.2 205.3Q40.7 213 52.7 221.7"/>
<path d="M159 194.2Q151.6 204.9 150.5 222.6"/>
<path d="M151.5 231.6Q160.6 241.3 164.9 242.3"/>
<path d="M46.9 246.4Q32.3 246.7 19.2 255"/>
<path d="M23.7 136.8Q33.1 148.9 47.4 154.4"/>
<path d="M105.7 172.9Q115.3 177 133.6 186.6"/>
<path d="M100.2 235.5Q100.7 240.5 92.7 251.4"/>
<path d="M20.4 170.1Q18.5 175 23.1 182.4"/>
<path d="M102.1 154.7Q114.7 169.8 117.7 181.7"/>
<path d="M119.6 104.7Q121.5 111.3 133.1 109.8"/>
<path d="M121 247.8Q136.1 251 151.5 249.5"/>
<path d="M64.9 251.9Q81 258.6 92.3 257.2"/>
<path d="M126.4 218.8Q109.8 229.8 96.3 237.1"/>
<path d="M150.4 237.6Q158.5 251.6 159.3 264.3"/>
<path d="M109.9 87.5Q101.8 100.4 102.2 110.6"/>
<path d="M164 238.5Q158.5 246.6 148.2 253.1"/>
<path d="M82.8 233.9Q94.2 238.4 115.1 240.9"/>
<path d="M88.7 165.8Q82 178.7 73 183.3"/>
<path d="M55.6 141.3Q61.9 148.2 74.1 161.8"/>
<path d="M151.1 111.1Q152.8 127.4 157.9 140.4"/>
<path d="M47.2 188.3Q35.5 195.8 16.2 205.6"/>
<path d="M103.7 175.4Q119.3 183.4 128.2 184.4"/>
<path d="M122.5 246.4Q128 249.8 134.4 257.6"/>
<path d="M49.5 186.4Q42.5 199.7 39.1 206.2"/>
<path d="M162.4 93.5Q173.3 90.3 176.8 96.2"/>
<path d="M122.2 203.9Q127.1 211.7 141.7 226.7"/>
<path d="M84.9 142.8Q72.6 142.4 67.5 151"/>
<path d="M110.5 190Q107.4 206 98.2 212.8"/>
<path d="M118.6 162.3Q114.5 169.5 120.1 177.2"/>
<path d="M123 70.2Q132.5 77.4 138.1 84.1"/>
<path d="M108.3 224.7Q118.1 233.6 119.7 250.8"/>
<path d="M155.1 220.9Q168.2 229.1 178.8 229.1"/>
<path d="M73.4 203.7Q61.7 208.5 41.1 214"/>
<path d="M113.7 162.9Q103.8 175.9 91.1 184.6"/>
<path d="M49.4 131.5Q30.1 135.4 10 133.4"/>
<path d="M65.1 241.9Q50.6 245.4 44.4 250"/>
<path d="M98.9 226Q102.3 227.6 99.5 237.8"/>
<path d="M135.6 159.4Q140.5 167.8 152.7 183.3"/>
<path d="M93.9 221Q84.4 227.1 66 233.3"/>
<path d="M157.5 62.3Q166.1 71.7 178.8 76.5"/>
<path d="M111.9 198.6Q97.4 202.8 86.7 209.3"/>
<path d="M142.3 240.9Q161.3 249.9 170.9 258.4"/>
<path d="M102.2 162.5Q101.8 168.6 99.2 184"/>
<path d="M160.5 197.8Q166.5 211 171.2 224.3"/>
<path d="M119.6 60.6Q122.6 74.7 116.6 80.3"/>
<path d="M57.6 193Q72.4 200.9 80.9 200.8"/>
<path d="M88.1 175.5Q104.7 178.6 112.8 189.1"/>
<path d="M132.6 142.6Q142.6 145.3 148.9 151.7"/>
<path d="M70.2 209.4Q82.1 213.8 101.5 218"/>
<path d="M54.8 71.8Q52.4 81 52.4 92"/>
<path d="M95.8 157.9Q109.4 165.5 120.2 172.5"/>
<path d="M143.1 208.5Q136.5 215.1 125.1 215.5"/>
<path d="M150.7 175.4Q158.3 193.1 171.6 200.8"/>
<path d="M148.5 155Q158.1 160 172.5 173"/>
<path d="M140.3 90.8Q132.5 96.9 126.7 99.3"/>
<path d="M20.6 162.5Q15.1 171.3 0.2 187.8"/>
<path d="M92.3 224.9Q89.1 233.3 92.1 250.4"/>
<path d="M33.6 144.2Q32.1 151.5 29.2 165.8"/>
<path d="M45.1 162.8Q32 166.4 10.3 178.1"/>
<path d="M27.1 135.9Q27.4 149 31.1 162.8"/>
<path d="M93.7 188.2Q93.5 197.1 89.3 199.1"/>
<path d="M44.6 190.8Q33.2 194.7 27.9 205.2"/>
<path d="M93.3 141.7Q78.9 149.9 60.4 150.9"/>
<path d="M110.5 185.3Q111.2 198.7 102.2 205.9"/>
<path d="M56 132.5Q47.2 141.4 32.2 152.2"/>
<path d="M149.8 238.5Q142.7 248.7 130.3 260.8"/>
<path d="M124.2 147.9Q125.6 155.7 136.7 166.3"/>
<path d="M111.9 209.9Q127.9 218.5 140.6 230.4"/>
<path d="M115 203.8Q118.7 214.8 112.5 223"/>
<path d="M121.1 119.7Q115 122.5 106.5 120.5"/>
<path d="M55.7 185Q63.9 182.2 74.6 187.4"/>
<path d="M54.9 241.4Q57.4 252.9 50.6 262.9"/>
<path d="M164.3 211.5Q158.7 217.7 151.1 218.7"/>
<path d="M24.6 244.2Q32.8 249.2 47.7 254.3"/>
<path d="M107.8 60Q95.8 62.7 83.3 63.4"/>
<path d="M71.7 172Q62.9 184.3 58.4 192.2"/>
<path d="M61.5 141.6Q63.5 148.3 72.4 150"/>
<path d="M75.3 240.5Q74.8 249.3 64.6 249.2"/>
<path d="M28.8 241.4Q36.4 249.2 34.6 262"/>
</g></g>
<defs><g id="fib1" fill="none" stroke="#2ee634" stroke-linecap="round" stroke-linejoin="round">
<path d="M-0 60.4C3.8 61.3 14 63.1 22.9 65.5C31.9 67.9 48.5 73.3 53.6 74.9" stroke-width="1.6" opacity="0.65"/>
<path d="M22.9 106.4C24.1 104.7 26.9 99.3 29.8 96.2C32.6 93.1 35.7 90.2 40 87.7C44.2 85.1 49.6 82.7 55.3 80.9C61 79 67.8 77.6 74 76.6C80.3 75.6 86.3 74.8 92.8 74.9C99.3 75 107 75.9 113.2 77.5C119.5 79 125.1 81.7 130.3 84.3C135.4 86.8 140.2 89.9 143.9 92.8C147.6 95.6 150 97.6 152.4 101.3C154.8 105 156.9 110.7 158.4 114.9C159.8 119.2 160.4 123.1 160.9 126.8C161.4 130.6 161.2 135.7 161.3 137.4" stroke-width="3.6"/>
<path d="M28.9 108.1C31 106.4 37 101.3 41.7 97.9C46.4 94.5 51.6 90.2 57 87.7C62.4 85.1 68.7 84 74 82.6C79.4 81.1 86.8 79.7 89.4 79.2" stroke-width="2.4" opacity="0.8"/>
<path d="M53.6 74.9C56.2 74.5 63.5 73.3 68.9 72.3C74.3 71.4 80.9 69.5 86 68.9C91.1 68.4 94.5 68.1 99.6 68.9C104.7 69.8 111 71.5 116.6 74C122.3 76.6 128.6 80.9 133.7 84.3C138.8 87.7 145 92.8 147.3 94.5" stroke-width="2.4" opacity="0.8"/>
<path d="M80.9 52.8C78.3 53.5 70.1 57.7 65.5 57C61 56.3 55.6 49.9 53.6 48.5" stroke-width="1.5" opacity="0.65"/>
<path d="M99.6 50.2C101.9 51.2 108.7 55.3 113.2 56.2C117.8 57 122.6 56.1 126.8 55.3C131.1 54.5 136.8 52.2 138.8 51.6" stroke-width="2.0" opacity="0.8"/>
<path d="M116.6 57C117.2 58.4 117.2 62.4 120 65.5C122.9 68.7 129.4 73.8 133.7 75.8C137.9 77.7 141.3 77.4 145.6 77.5C149.8 77.5 156.9 76.3 159.2 76.1" stroke-width="2.0" opacity="0.8"/>
<path d="M147.3 92.8C149 92.4 153.8 90.9 157.5 90.2C161.2 89.5 167.4 88.8 169.4 88.5" stroke-width="2.6"/>
<path d="M22.9 106.4C22.7 108.7 21.7 114.9 21.2 120C20.8 125.2 20.5 134.5 20.4 137.4" stroke-width="3.6"/>
<path d="M70.6 56.2C69.8 58.3 67.8 65.4 65.5 68.9C63.3 72.5 58.4 76 57 77.5" stroke-width="1.5" opacity="0.65"/>
<path d="M86 54.5C86.3 56.3 86.5 62.3 87.7 65.5C88.8 68.8 91.9 72.6 92.8 74" stroke-width="1.5" opacity="0.65"/>
<path d="M103 53.6C104.1 55.6 107 62.4 109.8 65.5C112.7 68.7 118.3 71.2 120 72.3" stroke-width="1.5" opacity="0.65"/>
<path d="M29.8 109.8C30.6 109.2 31.7 109 34.9 106.4C38 103.9 46.2 96.5 48.5 94.5" stroke-width="2.0" opacity="0.8"/>
<path d="M133.7 99.6C134.5 101 137.4 104.7 138.8 108.1C140.2 111.5 141.9 115.2 142.2 120C142.5 124.9 140.8 134.5 140.5 137.4" stroke-width="1.4" opacity="0.65"/>
<path d="M20.4 132.4C19.5 135.2 16 144.3 15.3 149.4C14.6 154.5 15.4 158.5 16.1 163.1C16.8 167.6 17.3 172.4 19.5 176.7C21.8 180.9 26.4 184.6 29.8 188.6C33.2 192.6 37.1 196.6 40 200.5C42.8 204.5 45.1 207.9 46.8 212.5C48.5 217 48.5 223 50.2 227.8C51.9 232.6 54.5 237.4 57 241.4C59.6 245.4 62.7 249.4 65.5 251.6C68.4 253.9 72.6 254.5 74 255" stroke-width="3.6"/>
<path d="M29.8 190.3C28.1 191.4 21.8 195.1 19.5 197.1C17.3 199.1 15.3 201.7 16.1 202.2C17 202.8 21 200.2 24.7 200.5C28.3 200.8 36 203.4 38.3 203.9" stroke-width="2.6"/>
<path d="M160.9 132.4C160.8 134.7 159.6 141.5 160.1 146C160.5 150.6 162.2 155.1 163.5 159.7C164.7 164.2 167.4 168.7 167.7 173.3C168 177.8 166.3 182.4 165.2 186.9C164 191.4 162.5 197.1 160.9 200.5C159.4 203.9 156.7 206.2 155.8 207.3" stroke-width="3.0"/>
<path d="M74 255C76 254.5 82.3 253 86 251.6C89.7 250.2 93.4 249.1 96.2 246.5C99 244 100.4 240 103 236.3C105.6 232.6 108.7 228.1 111.5 224.4C114.4 220.7 116.9 217 120 214.2C123.2 211.3 126.6 208.2 130.3 207.3C133.9 206.5 137.9 209 142.2 209C146.4 209 153.5 207.6 155.8 207.3" stroke-width="3.0"/>
<path d="M22.9 137.5C25.8 138.9 33.5 142.6 40 146C46.5 149.4 55 154.5 62.1 157.9C69.2 161.4 75.8 164.2 82.6 166.5C89.4 168.7 96.2 171 103 171.6C109.8 172.1 116.9 169.9 123.4 169.9C130 169.9 134.8 171 142.2 171.6C149.6 172.1 163.5 173 167.7 173.3" stroke-width="2.6"/>
<path d="M24.7 142.6C27.5 145.5 35.4 154.8 41.7 159.7C47.9 164.5 55.3 168.2 62.1 171.6C68.9 175 75.8 177.8 82.6 180.1C89.4 182.4 96.2 182.4 103 185.2C109.8 188 116.6 194 123.4 197.1C130.3 200.2 140.5 202.8 143.9 203.9" stroke-width="2.6"/>
<path d="M26.4 152.8C28.9 156 36.9 166.5 41.7 171.6C46.5 176.7 53 181.5 55.3 183.5" stroke-width="2.0" opacity="0.8"/>
<path d="M75.8 175C74.6 177.3 70.6 182.9 68.9 188.6C67.2 194.3 66.4 202.5 65.5 209C64.7 215.6 63.8 222.4 63.8 227.8C63.8 233.2 65.2 239.1 65.5 241.4" stroke-width="2.0" opacity="0.8"/>
<path d="M99.6 175C98.5 177.8 95.6 187.2 92.8 192C89.9 196.8 85.4 199.1 82.6 203.9C79.7 208.8 76.6 214.4 75.8 221C74.9 227.5 76.6 238 77.5 243.1C78.3 248.2 80.3 250.2 80.9 251.6" stroke-width="2.0" opacity="0.8"/>
<path d="M126.8 159.7C128 161.4 133.9 165.9 133.7 169.9C133.4 173.8 126.8 179 125.1 183.5C123.4 188 124.9 192.3 123.4 197.1C122 202 117.8 209.9 116.6 212.5" stroke-width="2.0" opacity="0.8"/>
<path d="M147.3 149.4C147.3 151.7 147.9 159.1 147.3 163.1C146.7 167 144.5 171.6 143.9 173.3" stroke-width="1.5" opacity="0.65"/>
<path d="M116.6 214.2C114.9 216.4 109.2 223.2 106.4 227.8C103.6 232.3 100.7 239.1 99.6 241.4" stroke-width="2.6"/>
<path d="M40 200.5C42.3 200 48.8 199.1 53.6 197.1C58.4 195.1 66.4 190 68.9 188.6" stroke-width="1.6" opacity="0.65"/>
<path d="M86 203.9C88.2 203.4 94.5 199.1 99.6 200.5C104.7 202 113.8 210.5 116.6 212.5" stroke-width="1.6" opacity="0.65"/>
<path d="M137.1 135.8C136.5 138.1 135.4 145.5 133.7 149.4C132 153.4 128 157.9 126.8 159.7" stroke-width="1.4" opacity="0.65"/>
<path d="M83.4 22.9 L86 21.2 L90.2 17.5 L93.6 18.7 L92.8 28.1 L95.3 38.3 L99.6 46.8 L109.8 52.8 L99.6 54.5 L89.4 54.5 L80.9 54.5 L72.3 56.2 L79.2 50.2 L81.7 41.7 L82.2 31.5Z" fill="#2ee634" stroke="none"/>
<path d="M48.5 77.5 L40 65.5" stroke-width="1.2" opacity="0.6"/>
<path d="M41.7 86 L31.5 77.5" stroke-width="1.2" opacity="0.6"/>
<path d="M62.1 72.3 L55.3 58.7" stroke-width="1.2" opacity="0.6"/>
<path d="M106.4 72.3 L116.6 62.1" stroke-width="1.2" opacity="0.6"/>
<path d="M126.8 80.9 L140.5 70.6" stroke-width="1.2" opacity="0.6"/>
<path d="M138.8 89.4 L150.7 82.6" stroke-width="1.2" opacity="0.6"/>
<path d="M147.3 99.6 L160.9 97.9" stroke-width="1.2" opacity="0.6"/>
<path d="M68.9 57 L58.7 53.6" stroke-width="1.2" opacity="0.6"/>
<path d="M114.9 56.2 L126.8 48.5" stroke-width="1.2" opacity="0.6"/>
<path d="M33.2 99.6 L22.9 92.8" stroke-width="1.2" opacity="0.6"/>
<circle cx="153.3" cy="206.5" r="3.1" fill="#40f246" stroke="none"/>
<circle cx="124.3" cy="198" r="2.4" fill="#40f246" stroke="none"/>
<circle cx="64.7" cy="229.5" r="2.4" fill="#40f246" stroke="none"/>
<circle cx="79.2" cy="249.9" r="2" fill="#40f246" stroke="none"/>
<circle cx="133.7" cy="169" r="1.7" fill="#40f246" stroke="none"/>
<circle cx="165.2" cy="174.1" r="1.7" fill="#40f246" stroke="none"/>
<circle cx="22.9" cy="193.7" r="2" fill="#40f246" stroke="none"/>
<circle cx="90.2" cy="40" r="2.7" fill="#40f246" stroke="none"/>
</g></defs>
<use href="#fib1" filter="url(#bl2)" opacity="0.7"/>
<use href="#fib1" filter="url(#bl07)"/>
<g filter="url(#bl2)">
<ellipse cx="92.5" cy="121" rx="44" ry="29.5" transform="rotate(33 92.5 121)" fill="#1a1cf6"/>
</g>
<g filter="url(#bl3)" opacity="0.3"><ellipse cx="88" cy="120" rx="28" ry="16" transform="rotate(33 88 120)" fill="#3a3cff"/></g>
</g>
<g transform="translate(1429.2 512.6)" filter="url(#rag)">
<g fill="none" stroke="#000" stroke-linecap="round" stroke-linejoin="round">
<path d="M5.2 58.7C9.3 60 21.5 64.1 29.9 66.4C38.2 68.7 51.2 71.4 55.4 72.3" stroke-width="1.6"/>
<path d="M23.1 106.4C24.2 105 26.5 100.7 29.9 97.9C33.3 95.1 38.9 92.2 43.5 89.4C48 86.5 52.3 83.3 57.1 80.9C61.9 78.4 66.8 76.3 72.4 74.9C78.1 73.5 85.8 72.8 91.2 72.3C96.6 71.9 100.3 71.2 104.8 72.3C109.4 73.5 113.9 77.2 118.4 79.2C123 81.1 127.5 82.8 132.1 84.3C136.6 85.7 142 86.3 145.7 87.7C149.4 89.1 151.7 90.2 154.2 92.8C156.8 95.3 159.2 99 161 103C162.9 107 164.4 112.1 165.3 116.6C166.1 121.2 166.3 126.8 166.1 130.3C166 133.7 164.7 136.2 164.4 137.4" stroke-width="7.2"/>
<path d="M31.6 91.1C34.1 89.9 42.1 86.5 46.9 84.3C51.7 82 58.3 78.6 60.5 77.5" stroke-width="4.3"/>
<path d="M145.7 86C148 86 154.8 86 159.3 86C163.9 85.9 170.7 85.7 172.9 85.6" stroke-width="4.6"/>
<path d="M101.4 65.5C104.2 66.1 113.3 67.5 118.4 68.9C123.5 70.4 127.5 73.1 132.1 74C136.6 75 142 75.2 145.7 74.9C149.4 74.6 151.2 72.8 154.2 72.3C157.2 71.9 162 72.3 163.6 72.3" stroke-width="2.9"/>
<path d="M98 55.3C99.4 56.7 103.1 61 106.5 63.8C109.9 66.7 114.2 69.8 118.4 72.3C122.7 74.9 128.1 76.9 132.1 79.2C136 81.4 140.6 84.8 142.3 86" stroke-width="3.8"/>
<path d="M23.9 101.3C23.6 103.9 22.6 110.6 22.2 116.6C21.8 122.6 21.5 133.9 21.3 137.4" stroke-width="8.7"/>
<path d="M38.4 103C39.8 101.6 43.2 97.6 46.9 94.5C50.6 91.4 56.3 86.8 60.5 84.3C64.8 81.7 70.5 80 72.4 79.2" stroke-width="3.5"/>
<path d="M70.7 57C69.6 58.4 65.9 63 63.9 65.5C61.9 68.1 59.7 71.2 58.8 72.3" stroke-width="3.8"/>
<path d="M84.4 55.3C83.8 57 83 62.7 81 65.5C79 68.4 73.9 71.2 72.4 72.3" stroke-width="2.9"/>
<path d="M130.4 55.3 L137.2 58.7" stroke-width="1.6"/>
<path d="M140.6 60.4 L145.7 58.7" stroke-width="1.6"/>
<path d="M29.9 109.8C31.6 111 37.2 115.2 40.1 116.6C42.9 118 45.8 118 46.9 118.3" stroke-width="1.8"/>
<path d="M138.9 92.8 L142.3 99.6" stroke-width="2.9"/>
<path d="M137.2 128.6 L144 127.7" stroke-width="2.9"/>
<path d="M23.1 132.4C22.8 135.2 21.9 143.2 21.3 149.4C20.8 155.7 18.2 163.3 19.6 169.9C21.1 176.4 26.5 182.9 29.9 188.6C33.3 194.3 37 199.7 40.1 203.9C43.2 208.2 46.6 210.2 48.6 214.2C50.6 218.1 50 223.8 52 227.8C54 231.8 58 235.2 60.5 238C63.1 240.8 64.8 242 67.3 244.8C69.9 247.7 72.4 253.3 75.9 255C79.3 256.7 85.8 255 87.8 255" stroke-width="10.2"/>
<path d="M35 195.4C32.1 196.1 20.8 198.3 17.9 199.7C15.1 201.1 15.4 203.5 17.9 203.9C20.5 204.4 30.7 202.5 33.3 202.2" stroke-width="5.8"/>
<path d="M24.8 137.5C28.4 139.8 38.9 146 46.9 151.1C54.8 156.2 66.2 163.6 72.4 168.2C78.7 172.7 79 175.3 84.4 178.4C89.8 181.5 98.6 184.6 104.8 186.9C111.1 189.2 119 191.2 121.8 192" stroke-width="7.2"/>
<path d="M29.9 135.8C34.1 137.8 47.8 144.3 55.4 147.7C63.1 151.1 72.4 154.8 75.9 156.2" stroke-width="2.9"/>
<path d="M26.5 146C29.9 149.4 41.8 161.4 46.9 166.5C52 171.6 55.4 175 57.1 176.7" stroke-width="4.3"/>
<path d="M24.8 154.5C27.3 158.2 35.5 171 40.1 176.7C44.6 182.4 48 184.1 52 188.6C56 193.2 61.9 201.4 63.9 203.9" stroke-width="3.8"/>
<path d="M115 178.4C117.9 177.5 126.4 174 132.1 173.3C137.7 172.6 142.1 174.1 149.1 174.1C156.1 174.1 169.7 173.4 173.8 173.3" stroke-width="11.6"/>
<path d="M163.6 132.4C163.7 134.7 164 141.5 164.4 146C164.9 150.6 164.7 155.3 166.1 159.7C167.5 164.1 171.8 170.3 172.9 172.4" stroke-width="6.7"/>
<path d="M169.5 176.7C169.3 178.7 168.7 184.9 167.8 188.6C167 192.3 165 197.1 164.4 198.8" stroke-width="4.3"/>
<path d="M104.8 186.9C107.6 188.3 115.9 193.2 121.8 195.4C127.8 197.7 135.2 198.8 140.6 200.5C146 202.2 151.9 204.8 154.2 205.6" stroke-width="13"/>
<path d="M125.2 207.3C123.5 210.2 118.7 217.6 115 224.4C111.3 231.2 105.1 244.2 103.1 248.2" stroke-width="7.2"/>
<path d="M87.8 200.5C86.6 202 82.7 204.5 81 209C79.3 213.6 78.1 224.7 77.6 227.8" stroke-width="4.3"/>
<path d="M104.8 203.9 L98 212.5" stroke-width="4.3"/>
<path d="M137.2 135.8C136.3 138.1 134.1 145.5 132.1 149.4C130.1 153.4 126.4 157.9 125.2 159.7" stroke-width="2.9"/>
<path d="M145.7 149.4C145.1 151.7 142.6 159.1 142.3 163.1C142 167 143.7 171.6 144 173.3" stroke-width="2.9"/>
<path d="M115 168.2 L125.2 175" stroke-width="4.3"/>
<path d="M52 227.8C51.2 230.1 45.5 237.7 46.9 241.4C48.3 245.1 56.6 247.4 60.5 249.9C64.5 252.5 69 255.6 70.7 256.7" stroke-width="3.8"/>
<path d="M81 159.7C82.7 160.5 87.8 162.8 91.2 164.8C94.6 166.7 99.7 170.4 101.4 171.6" stroke-width="2.9"/>
<path d="M69 183.5C68.2 185.8 64.5 192.9 63.9 197.1C63.4 201.4 65.4 207.1 65.6 209" stroke-width="3.2"/>
<path d="M138.9 140.9 L149.1 142.6" stroke-width="2.9"/>
<path d="M125.2 147.7 L132.1 154.5" stroke-width="2.9"/>
</g>
<path d="M85.7 18.7 L88.6 19.2 L89.8 22.9 L91.2 18.7 L93.7 19.2 L94.6 22.9 L96.3 19.5 L98 34.9 L106.5 46.8 L118.4 51.9 L134.6 51.6 L128.7 55.7 L115 54.8 L104.8 52.2 L91.2 53.9 L81 53.9 L69 55.7 L60.5 52.2 L56.8 48.2 L63.9 52.8 L77.6 51.6 L83.5 45.1 L85.2 31.5Z" fill="#000"/>
<path d="M14.5 137.5 L28.2 132.4 L35 142.6 L29.9 152.8 L28.2 166.5 L35 181.8 L45.2 197.1 L52 207.3 L55.4 221 L52 231.2 L46.9 224.4 L41.8 212.5 L33.3 200.5 L23.1 190.3 L17.9 178.4 L16.2 166.5 L19.6 152.8Z" fill="#000"/>
<path d="M35 192 L17.9 197.1 L16.2 204.8 L26.5 200.5 L33.3 203.9 L40.1 203.9Z" fill="#000"/>
<path d="M26.5 135.8 L46.9 147.7 L70.7 166.5 L84.4 171.6 L91.2 181.8 L104.8 185.2 L121.8 190.3 L132.1 183.5 L142.3 178.4 L174.6 170.7 L175.5 175.8 L155.9 179.2 L144 183.5 L135.5 190.3 L149.1 197.1 L164.4 200.5 L166.1 209 L155.9 215 L144 212.5 L140.6 205.6 L125.2 207.3 L115 200.5 L101.4 193.7 L87.8 186.9 L77.6 186.9 L70.7 178.4 L60.5 168.2 L43.5 154.5 L26.5 142.6Z" fill="#000"/>
<path d="M63.9 221 L74.2 222.7 L77.6 234.6 L75.9 243.1 L63.9 243.1 L57.1 234.6Z" fill="#000"/>
<path d="M127 207.3 L118.4 224.4 L104.8 249.9 L101.4 248.2 L113.3 222.7 L120.1 207.3Z" fill="#000"/>
<path d="M75.9 251.6 L91.2 249.9 L98 253.3 L84.4 258.4 L74.2 259.3Z" fill="#000"/>
<path d="M87.8 222.7 L101.4 224.4 L104.8 229.5 L96.3 236.3 L91.2 229.5Z" fill="#000"/>
<path d="M81 197.1 L94.6 195.4 L104.8 200.5 L98 209 L87.8 205.6 L81 207.3Z" fill="#000"/>
<path d="M113.3 166.5 L125.2 164.8 L132.1 171.6 L121.8 176.7 L113.3 173.3Z" fill="#000"/>
<path d="M63.9 72.3 L81 68.9 L101.4 70.6 L98 77.5 L84.4 79.2 L70.7 80.9 L57.1 82.6Z" fill="#000"/>
<path d="M145.7 82.6 L172.9 83.4 L172.9 87.7 L159.3 89.4 L163.6 103 L155.9 99.6 L149.1 91.1 L138.9 89.4Z" fill="#000"/>
<circle cx="154.2" cy="205.6" r="7.7"/>
<circle cx="77.6" cy="178.4" r="5.8"/>
<circle cx="69" cy="231.2" r="7.5"/>
<circle cx="98" cy="227.8" r="5.1"/>
<circle cx="84.4" cy="254.2" r="4.3"/>
<circle cx="91.2" cy="200.5" r="4.3"/>
<circle cx="23.1" cy="171.6" r="3.7"/>
<circle cx="25.6" cy="139.2" r="4.1"/>
<circle cx="130.4" cy="198.8" r="6.1"/>
<circle cx="91.2" cy="74" r="3.7"/>
<circle cx="154.2" cy="89.4" r="3.7"/>
<circle cx="25.6" cy="106.4" r="3.4"/>
<circle cx="135.5" cy="106.4" r="1.4"/>
<circle cx="135.5" cy="114.9" r="1.4"/>
<circle cx="149.1" cy="114.9" r="1.4"/>
<circle cx="99.7" cy="92.8" r="1.4"/>
<circle cx="108.2" cy="90.2" r="1.4"/>
<circle cx="115" cy="85.1" r="1.4"/>
<circle cx="87.8" cy="81.7" r="1.4"/>
<circle cx="55.4" cy="118.3" r="1.4"/>
<circle cx="35" cy="127.7" r="1.4"/>
<circle cx="17.9" cy="126" r="1.4"/>
<circle cx="91.2" cy="169.9" r="1.4"/>
<circle cx="98" cy="166.5" r="1.4"/>
<circle cx="113.3" cy="169" r="1.4"/>
<circle cx="91.2" cy="215.9" r="1.4"/>
<circle cx="87.8" cy="221" r="1.4"/>
<circle cx="52" cy="197.1" r="1.4"/>
<circle cx="55.4" cy="188.6" r="1.4"/>
<circle cx="135.5" cy="159.7" r="1.4"/>
<circle cx="155.9" cy="157.9" r="1.4"/>
<circle cx="128.7" cy="142.6" r="1.4"/>
<circle cx="135.5" cy="184.4" r="3.1" fill="#fff"/>
<circle cx="149.1" cy="183.5" r="2.4" fill="#fff"/>
<circle cx="159.3" cy="188.6" r="2.7" fill="#fff"/>
<circle cx="98" cy="199.7" r="1.7" fill="#fff"/>
<circle cx="38.4" cy="175" r="1.4" fill="#fff"/>
<circle cx="31.6" cy="157.9" r="1.2" fill="#fff"/>
<circle cx="67.3" cy="234.6" r="1" fill="#fff"/>
<circle cx="52" cy="166.5" r="1.4" fill="#fff"/>
</g>
<rect x="1649.2" y="512.6" width="245.8" height="273.0" fill="#000"/>
<clipPath id="cb3"><rect x="1649.2" y="512.6" width="245.8" height="273.0"/></clipPath>
<g clip-path="url(#cb3)"><g transform="translate(1645.6 512.6)" filter="url(#bl05)">
<circle cx="33.1" cy="113.1" r="2.3" fill="#1c0086"/>
<circle cx="35.8" cy="113.8" r="2.1" fill="#20008c"/>
<circle cx="44.1" cy="116.8" r="2.7" fill="#20008c"/>
<circle cx="55.7" cy="118.5" r="2.7" fill="#260095"/>
<circle cx="60.2" cy="151.1" r="3" fill="#2a009b"/>
<circle cx="134" cy="67.5" r="3" fill="#2c009e"/>
<circle cx="49.6" cy="145.1" r="3" fill="#2d009f"/>
<circle cx="101.9" cy="169.4" r="3.2" fill="#2d00a0"/>
<circle cx="32.2" cy="127.2" r="2.8" fill="#2f00a2"/>
<circle cx="60.9" cy="70.8" r="2.7" fill="#2f00a2"/>
<circle cx="127.3" cy="63.8" r="2.6" fill="#2f00a3"/>
<circle cx="64.3" cy="153.4" r="2.8" fill="#2f00a3"/>
<circle cx="69" cy="63.1" r="2.7" fill="#3100a4"/>
<circle cx="52.9" cy="117.9" r="2.1" fill="#3200a6"/>
<circle cx="73" cy="204.4" r="2.4" fill="#3300a7"/>
<circle cx="100.2" cy="203.9" r="2.6" fill="#3300a8"/>
<circle cx="140.8" cy="70.8" r="2.5" fill="#3400a8"/>
<circle cx="114.4" cy="221.4" r="2.6" fill="#3500aa"/>
<circle cx="99.6" cy="168.9" r="2.9" fill="#3500aa"/>
<circle cx="149.4" cy="74.2" r="2.6" fill="#3600aa"/>
<circle cx="131" cy="205.9" r="2.7" fill="#3600ab"/>
<circle cx="42.4" cy="140" r="3.5" fill="#3800ad"/>
<circle cx="89.2" cy="162.1" r="2.5" fill="#3900ae"/>
<circle cx="86.7" cy="185.6" r="3.3" fill="#3900ae"/>
<circle cx="29.8" cy="137.3" r="2.5" fill="#3a00af"/>
<circle cx="31.2" cy="131.7" r="3.3" fill="#3c00b1"/>
<circle cx="65.5" cy="156.3" r="2.5" fill="#3c00b2"/>
<circle cx="57.5" cy="178.7" r="3" fill="#3d00b3"/>
<circle cx="8.8" cy="58.6" r="2.9" fill="#3e00b3"/>
<circle cx="93.4" cy="175.6" r="2.7" fill="#3e00b3"/>
<circle cx="35.6" cy="65.8" r="3.1" fill="#3e00b3"/>
<circle cx="31.4" cy="126.4" r="3.3" fill="#3e00b4"/>
<circle cx="55.2" cy="149.1" r="3" fill="#3f00b4"/>
<circle cx="97.1" cy="166.9" r="3.1" fill="#3f00b5"/>
<circle cx="54" cy="71" r="2.9" fill="#3f00b5"/>
<circle cx="29" cy="119.6" r="3.2" fill="#3f00b5"/>
<circle cx="146.6" cy="72.7" r="3.2" fill="#4000b6"/>
<circle cx="51.5" cy="70.4" r="2.7" fill="#4100b7"/>
<circle cx="67.8" cy="186.6" r="2.6" fill="#4100b7"/>
<circle cx="18.6" cy="61.8" r="2.6" fill="#4100b7"/>
<circle cx="59.6" cy="184.2" r="3.2" fill="#4100b7"/>
<circle cx="48.8" cy="69.7" r="2.6" fill="#4200b8"/>
<circle cx="63.9" cy="183.8" r="2.5" fill="#4200b8"/>
<circle cx="88" cy="55.4" r="2.4" fill="#4200b8"/>
<circle cx="60.8" cy="192.2" r="3" fill="#4200b8"/>
<circle cx="21.3" cy="61.9" r="3" fill="#4200b9"/>
<circle cx="58" cy="150.1" r="3.3" fill="#4200b9"/>
<circle cx="128.7" cy="65.5" r="2.6" fill="#4400ba"/>
<circle cx="28.4" cy="64.2" r="3" fill="#4500bb"/>
<circle cx="85.3" cy="235.5" r="2.7" fill="#4500bb"/>
<circle cx="112.2" cy="70.3" r="3.3" fill="#4500bb"/>
<circle cx="109.2" cy="69.2" r="3" fill="#4500bc"/>
<circle cx="53.3" cy="175.8" r="2.5" fill="#4500bc"/>
<circle cx="33.3" cy="187.1" r="3.2" fill="#4600bd"/>
<circle cx="61.8" cy="245.2" r="3" fill="#4600bd"/>
<circle cx="93.1" cy="174.7" r="3" fill="#4700bd"/>
<circle cx="4.7" cy="57.4" r="2.6" fill="#4700be"/>
<circle cx="119.4" cy="171" r="3.6" fill="#4800bf"/>
<circle cx="62.5" cy="152.4" r="2.9" fill="#4800bf"/>
<circle cx="70.8" cy="156.2" r="3.2" fill="#4800bf"/>
<circle cx="141.2" cy="131.9" r="2.5" fill="#4800bf"/>
<circle cx="96.3" cy="198.5" r="3.2" fill="#4800bf"/>
<circle cx="46.5" cy="68.7" r="3.1" fill="#4900c0"/>
<circle cx="144.1" cy="129" r="2.9" fill="#4a00c1"/>
<circle cx="32.7" cy="65.1" r="3.2" fill="#4a00c2"/>
<circle cx="11.3" cy="59.4" r="3.2" fill="#4b00c2"/>
<circle cx="62.5" cy="50.9" r="2.7" fill="#4b00c2"/>
<circle cx="120.4" cy="59.8" r="2.5" fill="#4b00c2"/>
<circle cx="28.7" cy="64" r="2.8" fill="#4c00c3"/>
<circle cx="51.4" cy="174.5" r="3" fill="#4c00c3"/>
<circle cx="65.6" cy="156.8" r="2.4" fill="#4c00c4"/>
<circle cx="41.9" cy="67.7" r="3.1" fill="#4c00c4"/>
<circle cx="48.8" cy="117.6" r="2.7" fill="#4e00c5"/>
<circle cx="99.5" cy="216.3" r="3.3" fill="#4e00c5"/>
<circle cx="82.8" cy="159.7" r="3.2" fill="#4e00c6"/>
<circle cx="6.5" cy="58.5" r="2.8" fill="#4e00c6"/>
<circle cx="154.1" cy="162.1" r="3.1" fill="#4f00c6"/>
<circle cx="23.1" cy="62.3" r="2.5" fill="#4f00c7"/>
<circle cx="57.5" cy="49.2" r="2.9" fill="#4f00c7"/>
<circle cx="121.3" cy="75" r="3.4" fill="#4f00c7"/>
<circle cx="140.4" cy="157.8" r="3.9" fill="#4f00c7"/>
<circle cx="84.5" cy="213" r="3.1" fill="#5000c8"/>
<circle cx="40.3" cy="67.4" r="2.9" fill="#5000c8"/>
<circle cx="44.3" cy="141.2" r="3.6" fill="#5100c9"/>
<circle cx="74.5" cy="186.8" r="2.7" fill="#5100c9"/>
<circle cx="141.2" cy="143.2" r="3.2" fill="#5100c9"/>
<circle cx="14.1" cy="60.1" r="3.3" fill="#5200ca"/>
<circle cx="95.1" cy="165.3" r="3.5" fill="#5200ca"/>
<circle cx="68.6" cy="155.7" r="3" fill="#5200ca"/>
<circle cx="44.9" cy="67.9" r="3.4" fill="#5200ca"/>
<circle cx="124.6" cy="62.6" r="2.8" fill="#5300cb"/>
<circle cx="124.6" cy="145.9" r="3.1" fill="#5300cb"/>
<circle cx="111.6" cy="71" r="2.9" fill="#5300cb"/>
<circle cx="102" cy="65.2" r="3.1" fill="#5300cb"/>
<circle cx="144.3" cy="147.2" r="3.5" fill="#5300cb"/>
<circle cx="126.6" cy="145.2" r="3.4" fill="#5300cc"/>
<circle cx="25.8" cy="63.3" r="2.9" fill="#5300cc"/>
<circle cx="75.7" cy="158.1" r="3.5" fill="#5400cc"/>
<circle cx="18.8" cy="200.6" r="3.1" fill="#5400cd"/>
<circle cx="31.2" cy="64.1" r="2.7" fill="#5500ce"/>
<circle cx="108.9" cy="52.3" r="3.6" fill="#5500ce"/>
<circle cx="86.7" cy="60.6" r="2.8" fill="#5500ce"/>
<circle cx="123.5" cy="53.2" r="3" fill="#5600ce"/>
<circle cx="139.9" cy="82.1" r="2.7" fill="#5600ce"/>
<circle cx="51" cy="117.8" r="2.7" fill="#5600ce"/>
<circle cx="38.8" cy="115.1" r="2.5" fill="#5600cf"/>
<circle cx="118.3" cy="58.3" r="2.5" fill="#5600cf"/>
<circle cx="75.4" cy="52.6" r="2.8" fill="#5700cf"/>
<circle cx="136.6" cy="164.5" r="2.6" fill="#5700d0"/>
<circle cx="143.2" cy="72.1" r="2.8" fill="#5700d0"/>
<circle cx="71.7" cy="192.9" r="3.1" fill="#5700d0"/>
<circle cx="77.8" cy="158.5" r="2.9" fill="#5700d0"/>
<circle cx="144.6" cy="128.1" r="2.8" fill="#5900d1"/>
<circle cx="72.6" cy="219.5" r="2.9" fill="#5900d2"/>
<circle cx="141.8" cy="153.3" r="3.6" fill="#5900d2"/>
<circle cx="48.4" cy="144.5" r="3.5" fill="#5900d2"/>
<circle cx="81.3" cy="68.6" r="2.7" fill="#5900d2"/>
<circle cx="88.4" cy="244.6" r="3.1" fill="#5900d2"/>
<circle cx="75.6" cy="210.3" r="2.6" fill="#5900d2"/>
<circle cx="67.8" cy="65.6" r="3.1" fill="#5900d2"/>
<circle cx="123.3" cy="186.9" r="3.2" fill="#5a00d3"/>
<circle cx="55.1" cy="176.2" r="2.6" fill="#5a00d3"/>
<circle cx="37.8" cy="66.4" r="2.8" fill="#5a00d3"/>
<circle cx="101.3" cy="65.6" r="3.5" fill="#5a00d3"/>
<circle cx="147.3" cy="158.6" r="3.2" fill="#5b00d4"/>
<circle cx="29.8" cy="121.7" r="2.7" fill="#5b00d4"/>
<circle cx="135.9" cy="142.9" r="3.7" fill="#5b00d4"/>
<circle cx="98.2" cy="91.9" r="2.4" fill="#5c00d5"/>
<circle cx="106.7" cy="89.4" r="2.4" fill="#5c00d5"/>
<circle cx="115.2" cy="96.2" r="2.4" fill="#5c00d5"/>
<circle cx="104.2" cy="103" r="2.4" fill="#5c00d5"/>
<circle cx="137.4" cy="104.7" r="2.4" fill="#5c00d5"/>
<circle cx="134" cy="113.2" r="2.4" fill="#5c00d5"/>
<circle cx="149.3" cy="114.1" r="2.4" fill="#5c00d5"/>
<circle cx="50.5" cy="103" r="2.4" fill="#5c00d5"/>
<circle cx="53.9" cy="116.6" r="2.4" fill="#5c00d5"/>
<circle cx="33.5" cy="126.8" r="2.4" fill="#5c00d5"/>
<circle cx="87.1" cy="81.7" r="2.4" fill="#5c00d5"/>
<circle cx="39.3" cy="142.8" r="3" fill="#5c00d5"/>
<circle cx="129.2" cy="65.2" r="2.9" fill="#5c00d5"/>
<circle cx="106.7" cy="67.6" r="3.4" fill="#5c00d6"/>
<circle cx="16.8" cy="60.6" r="2.5" fill="#5e00d7"/>
<circle cx="85.1" cy="160.6" r="3.6" fill="#5e00d7"/>
<circle cx="138.2" cy="157.6" r="3.2" fill="#5e00d8"/>
<circle cx="153" cy="72.8" r="3.2" fill="#5e00d8"/>
<circle cx="87.2" cy="57.4" r="2.6" fill="#5e00d8"/>
<circle cx="124" cy="75.2" r="2.8" fill="#5e00d8"/>
<circle cx="39.9" cy="179.9" r="3" fill="#6200db"/>
<circle cx="114.2" cy="168.8" r="3.9" fill="#6200dc"/>
<circle cx="64.4" cy="198.8" r="3.5" fill="#6200dc"/>
<circle cx="51" cy="228.4" r="3.4" fill="#6200dc"/>
<circle cx="51.7" cy="185.6" r="3.3" fill="#6200dc"/>
<circle cx="57.8" cy="190.5" r="3.2" fill="#6300dc"/>
<circle cx="86.2" cy="216.1" r="3.1" fill="#6300dc"/>
<circle cx="123" cy="61.4" r="3.1" fill="#6300dc"/>
<circle cx="168.3" cy="195" r="3.3" fill="#6300dc"/>
<circle cx="136.1" cy="79.8" r="3.3" fill="#6300dc"/>
<circle cx="49.9" cy="172.7" r="3.1" fill="#6300dc"/>
<circle cx="41" cy="115.6" r="2.7" fill="#6300dc"/>
<circle cx="116.2" cy="53.6" r="3.4" fill="#6400dd"/>
<circle cx="153.7" cy="170.9" r="2.6" fill="#6400dd"/>
<circle cx="135.9" cy="69" r="2.4" fill="#6400dd"/>
<circle cx="19.7" cy="153.3" r="3.5" fill="#6500dd"/>
<circle cx="135.2" cy="137.7" r="2.7" fill="#6500dd"/>
<circle cx="112.1" cy="208" r="2.8" fill="#6500dd"/>
<circle cx="45.7" cy="117" r="2.7" fill="#6500dd"/>
<circle cx="111.3" cy="167.9" r="3.6" fill="#6500dd"/>
<circle cx="128.7" cy="144.7" r="3.4" fill="#6600dd"/>
<circle cx="62.7" cy="197.1" r="3.5" fill="#6600dd"/>
<circle cx="141.2" cy="158.2" r="3.1" fill="#6600dd"/>
<circle cx="78.8" cy="152.6" r="3.4" fill="#6600dd"/>
<circle cx="48.1" cy="171.9" r="3.2" fill="#6700dd"/>
<circle cx="131.5" cy="52.6" r="2.9" fill="#6700dd"/>
<circle cx="59.9" cy="49.7" r="2.6" fill="#6700de"/>
<circle cx="90.7" cy="244.4" r="2.8" fill="#6800de"/>
<circle cx="135.2" cy="137.5" r="3.2" fill="#6800de"/>
<circle cx="122.1" cy="171.3" r="3.9" fill="#6800de"/>
<circle cx="86.9" cy="242.8" r="2.6" fill="#6800de"/>
<circle cx="72.6" cy="56.5" r="3.1" fill="#6800de"/>
<circle cx="125.1" cy="158.3" r="3.2" fill="#6800de"/>
<circle cx="55.4" cy="89" r="3.4" fill="#6800de"/>
<circle cx="32.1" cy="106.9" r="3.6" fill="#6800de"/>
<circle cx="141.9" cy="127.6" r="3.2" fill="#6900de"/>
<circle cx="78.9" cy="51.9" r="3.4" fill="#6900de"/>
<circle cx="84.5" cy="65.3" r="3" fill="#6900de"/>
<circle cx="118.9" cy="73.1" r="3" fill="#6a00de"/>
<circle cx="66.2" cy="154.5" r="2.8" fill="#6a00de"/>
<circle cx="33.5" cy="105.5" r="3.5" fill="#6a00de"/>
<circle cx="56" cy="89.5" r="3.5" fill="#6a00de"/>
<circle cx="80.3" cy="159.3" r="3.6" fill="#6a00de"/>
<circle cx="64.9" cy="67" r="2.6" fill="#6a00de"/>
<circle cx="121" cy="52.9" r="3.2" fill="#6a00de"/>
<circle cx="30.2" cy="108" r="2.8" fill="#6a00de"/>
<circle cx="70.7" cy="53.5" r="3.1" fill="#6a00de"/>
<circle cx="117.2" cy="72.7" r="3" fill="#6b00df"/>
<circle cx="126.8" cy="76.8" r="3.5" fill="#6b00df"/>
<circle cx="18.3" cy="157.9" r="3.4" fill="#6b00df"/>
<circle cx="80.5" cy="218.8" r="3.2" fill="#6b00df"/>
<circle cx="70.3" cy="61" r="2.5" fill="#6c00df"/>
<circle cx="30.2" cy="166.4" r="3.6" fill="#6c00df"/>
<circle cx="141.2" cy="182.1" r="3.4" fill="#6c00df"/>
<circle cx="30.4" cy="134.6" r="2.8" fill="#6c00df"/>
<circle cx="39.2" cy="100.4" r="2.8" fill="#6c00df"/>
<circle cx="30.6" cy="124.2" r="3.3" fill="#6c00df"/>
<circle cx="142.9" cy="151.7" r="2.9" fill="#6c00df"/>
<circle cx="64.8" cy="52.6" r="3" fill="#6d00df"/>
<circle cx="121.6" cy="207.7" r="3.6" fill="#6d00df"/>
<circle cx="130.9" cy="143.5" r="3.9" fill="#6d00df"/>
<circle cx="72.3" cy="195" r="2.9" fill="#6e00df"/>
<circle cx="166.5" cy="183.2" r="2.7" fill="#6e00e0"/>
<circle cx="40.4" cy="179.6" r="2.9" fill="#6e00e0"/>
<circle cx="142.7" cy="129.9" r="3.2" fill="#6e00e0"/>
<circle cx="133.2" cy="81.3" r="3.7" fill="#6f00e0"/>
<circle cx="146.1" cy="143" r="3.1" fill="#7000e0"/>
<circle cx="91.7" cy="251.4" r="3.7" fill="#7000e0"/>
<circle cx="87" cy="230.5" r="3.3" fill="#7000e0"/>
<circle cx="118.7" cy="207" r="2.7" fill="#7000e0"/>
<circle cx="60.1" cy="87.1" r="3.1" fill="#7100e0"/>
<circle cx="80.2" cy="216.2" r="3.4" fill="#7100e0"/>
<circle cx="72.9" cy="157.4" r="2.9" fill="#7200e1"/>
<circle cx="62.4" cy="198.6" r="2.8" fill="#7200e1"/>
<circle cx="159.5" cy="72.4" r="3.5" fill="#7300e1"/>
<circle cx="31.8" cy="129.3" r="3.4" fill="#7300e1"/>
<circle cx="31.5" cy="100.9" r="4" fill="#7300e1"/>
<circle cx="154.8" cy="148.6" r="2.6" fill="#7300e1"/>
<circle cx="40.2" cy="138.6" r="2.9" fill="#7300e1"/>
<circle cx="78.7" cy="211.3" r="3.3" fill="#7300e1"/>
<circle cx="67.5" cy="65.4" r="3.3" fill="#7400e1"/>
<circle cx="63.1" cy="68.5" r="2.8" fill="#7400e1"/>
<circle cx="96.9" cy="58.8" r="2.7" fill="#7400e1"/>
<circle cx="45.8" cy="95.8" r="3.1" fill="#7400e1"/>
<circle cx="118.9" cy="54.1" r="2.9" fill="#7400e1"/>
<circle cx="156.3" cy="152.1" r="2.9" fill="#7400e1"/>
<circle cx="91.7" cy="222.5" r="2.7" fill="#7400e1"/>
<circle cx="19.6" cy="152.4" r="3.7" fill="#7500e2"/>
<circle cx="70.6" cy="190" r="3" fill="#7500e2"/>
<circle cx="59" cy="193" r="3.3" fill="#7500e2"/>
<circle cx="106.8" cy="52.1" r="2.9" fill="#7600e2"/>
<circle cx="46.2" cy="170.8" r="3.1" fill="#7700e2"/>
<circle cx="65.7" cy="185" r="3.2" fill="#7700e2"/>
<circle cx="142.9" cy="83.1" r="2.8" fill="#7700e2"/>
<circle cx="88.8" cy="18.7" r="4.1" fill="#7700e2"/>
<circle cx="105.4" cy="74.3" r="3.6" fill="#7700e2"/>
<circle cx="42.6" cy="180.9" r="3.3" fill="#7800e2"/>
<circle cx="101.9" cy="52.4" r="2.8" fill="#7800e2"/>
<circle cx="96.3" cy="212.6" r="3.6" fill="#7800e2"/>
<circle cx="94.9" cy="255.3" r="4.2" fill="#7800e2"/>
<circle cx="62.7" cy="201.2" r="2.7" fill="#7800e3"/>
<circle cx="65.4" cy="249.9" r="3.7" fill="#7800e3"/>
<circle cx="14.6" cy="141.9" r="3.4" fill="#7800e3"/>
<circle cx="17.4" cy="160.7" r="3.3" fill="#7900e3"/>
<circle cx="67.7" cy="53.2" r="3.2" fill="#7900e3"/>
<circle cx="134.1" cy="134.9" r="3.8" fill="#7900e3"/>
<circle cx="73.9" cy="201" r="2.5" fill="#7900e3"/>
<circle cx="71.4" cy="59.2" r="3.1" fill="#7900e3"/>
<circle cx="46.7" cy="183.6" r="2.8" fill="#7900e3"/>
<circle cx="53.4" cy="186.9" r="3.6" fill="#7a00e3"/>
<circle cx="87.7" cy="161" r="3.6" fill="#7a00e3"/>
<circle cx="45.6" cy="96.2" r="2.7" fill="#7a00e3"/>
<circle cx="82.6" cy="66.8" r="3.2" fill="#7a00e3"/>
<circle cx="46.6" cy="142.4" r="3.3" fill="#7a00e3"/>
<circle cx="167.9" cy="192.5" r="3.6" fill="#7a00e3"/>
<circle cx="69.7" cy="177.6" r="3.2" fill="#7b00e2"/>
<circle cx="59.5" cy="207.1" r="3.3" fill="#7c00e2"/>
<circle cx="114.9" cy="75.7" r="3.1" fill="#7c00e2"/>
<circle cx="37.8" cy="101.9" r="2.8" fill="#7c00e2"/>
<circle cx="133.3" cy="171.1" r="2.7" fill="#7c00e2"/>
<circle cx="92.8" cy="163.9" r="2.8" fill="#7c00e2"/>
<circle cx="138.9" cy="69.4" r="3.1" fill="#7c00e2"/>
<circle cx="55.8" cy="176.9" r="3" fill="#7d00e1"/>
<circle cx="148.9" cy="73.3" r="3.7" fill="#7d00e1"/>
<circle cx="55.4" cy="243.1" r="3.2" fill="#7d00e1"/>
<circle cx="57.8" cy="88" r="2.9" fill="#7d00e1"/>
<circle cx="156.5" cy="72.3" r="3.7" fill="#7d00e1"/>
<circle cx="69" cy="245.9" r="2.7" fill="#7e00e0"/>
<circle cx="117.4" cy="75.9" r="3.8" fill="#7e00e0"/>
<circle cx="38.6" cy="137.4" r="3" fill="#7e00e0"/>
<circle cx="28.4" cy="104.9" r="4.1" fill="#7e00e0"/>
<circle cx="142.9" cy="183.1" r="3" fill="#7e00e0"/>
<circle cx="43.9" cy="116.8" r="2.2" fill="#7e00e0"/>
<circle cx="39.9" cy="94.3" r="3.6" fill="#7f00df"/>
<circle cx="108.2" cy="212.4" r="3.1" fill="#7f00df"/>
<circle cx="70.8" cy="155.9" r="3.6" fill="#8000df"/>
<circle cx="64.6" cy="83.8" r="3" fill="#8000df"/>
<circle cx="53.5" cy="148.4" r="3.1" fill="#8000df"/>
<circle cx="167.7" cy="195.8" r="3.4" fill="#8000df"/>
<circle cx="72.5" cy="52.8" r="2.8" fill="#8000df"/>
<circle cx="41.8" cy="99" r="3" fill="#8000df"/>
<circle cx="36.9" cy="175.8" r="2.7" fill="#8000df"/>
<circle cx="19" cy="150.1" r="3.3" fill="#8100de"/>
<circle cx="86.6" cy="232.7" r="3.3" fill="#8100de"/>
<circle cx="103.6" cy="51.8" r="3.2" fill="#8200de"/>
<circle cx="42.4" cy="167.6" r="3.3" fill="#8200de"/>
<circle cx="100.4" cy="175.7" r="3.4" fill="#8200dd"/>
<circle cx="37.9" cy="95.7" r="3.5" fill="#8200dd"/>
<circle cx="156.1" cy="72.5" r="3.4" fill="#8200dd"/>
<circle cx="55.4" cy="47.5" r="2.7" fill="#8300dd"/>
<circle cx="51.7" cy="92.2" r="3.5" fill="#8300dc"/>
<circle cx="152.6" cy="164.7" r="2.9" fill="#8400dc"/>
<circle cx="87.7" cy="214.4" r="2.9" fill="#8400dc"/>
<circle cx="79.1" cy="163.5" r="3.2" fill="#8400dc"/>
<circle cx="129.3" cy="77.5" r="3.4" fill="#8400dc"/>
<circle cx="73.5" cy="152.1" r="3" fill="#8500dc"/>
<circle cx="84.3" cy="217.5" r="2.8" fill="#8500dc"/>
<circle cx="32.9" cy="170" r="3.4" fill="#8500db"/>
<circle cx="163" cy="200.4" r="3.3" fill="#8500db"/>
<circle cx="154.8" cy="159.2" r="3.1" fill="#8500db"/>
<circle cx="90.6" cy="162.9" r="3.1" fill="#8600da"/>
<circle cx="31" cy="175.9" r="3.3" fill="#8700da"/>
<circle cx="88.2" cy="180.6" r="3" fill="#8700da"/>
<circle cx="138" cy="80.8" r="2.9" fill="#8700da"/>
<circle cx="79.5" cy="70.3" r="3" fill="#8700da"/>
<circle cx="33.5" cy="202.9" r="2.5" fill="#8700da"/>
<circle cx="127.7" cy="157.9" r="3.7" fill="#8700d9"/>
<circle cx="139" cy="151.7" r="2.5" fill="#8800d9"/>
<circle cx="140.9" cy="70.9" r="3" fill="#8800d9"/>
<circle cx="15.2" cy="143.7" r="3.2" fill="#8800d9"/>
<circle cx="88" cy="160.9" r="3.6" fill="#8800d9"/>
<circle cx="55.7" cy="149.6" r="2.8" fill="#8800d9"/>
<circle cx="124.3" cy="77.1" r="3.2" fill="#8800d9"/>
<circle cx="90.4" cy="213.9" r="2.9" fill="#8800d9"/>
<circle cx="80.3" cy="154.3" r="2.4" fill="#8800d9"/>
<circle cx="82.5" cy="219.8" r="3.4" fill="#8800d9"/>
<circle cx="134.2" cy="132.5" r="3.7" fill="#8800d9"/>
<circle cx="49.7" cy="93.9" r="3.2" fill="#8800d9"/>
<circle cx="118.8" cy="185.5" r="3.2" fill="#8800d9"/>
<circle cx="94.8" cy="57" r="2.9" fill="#8900d9"/>
<circle cx="126.8" cy="77.9" r="3.3" fill="#8900d9"/>
<circle cx="131.6" cy="66.1" r="3.1" fill="#8900d9"/>
<circle cx="59.1" cy="180.5" r="3.3" fill="#8900d8"/>
<circle cx="111.4" cy="53.4" r="2.7" fill="#8900d8"/>
<circle cx="53.1" cy="90.4" r="3" fill="#8900d8"/>
<circle cx="55.2" cy="189.2" r="2.9" fill="#8a00d8"/>
<circle cx="80.9" cy="221.2" r="3.6" fill="#8a00d8"/>
<circle cx="116.5" cy="205.9" r="2.8" fill="#8a00d8"/>
<circle cx="28.7" cy="116.4" r="2.8" fill="#8a00d7"/>
<circle cx="143.8" cy="149.2" r="3.4" fill="#8b00d7"/>
<circle cx="52.3" cy="146.7" r="3.3" fill="#8b00d7"/>
<circle cx="163.4" cy="71.3" r="3.8" fill="#8b00d7"/>
<circle cx="110" cy="192" r="3" fill="#8b00d7"/>
<circle cx="145.8" cy="161.3" r="3.4" fill="#8b00d7"/>
<circle cx="135.3" cy="157.6" r="3.8" fill="#8b00d7"/>
<circle cx="145.7" cy="183.6" r="3.5" fill="#8b00d7"/>
<circle cx="52.6" cy="242.1" r="3.1" fill="#8c00d7"/>
<circle cx="87.8" cy="233" r="3.2" fill="#8c00d7"/>
<circle cx="55.8" cy="243" r="3.6" fill="#8c00d6"/>
<circle cx="62" cy="248.5" r="3" fill="#8c00d6"/>
<circle cx="164.3" cy="199.1" r="3.3" fill="#8d00d6"/>
<circle cx="129.1" cy="77.4" r="2.6" fill="#8d00d5"/>
<circle cx="35.9" cy="104.1" r="3" fill="#8e00d5"/>
<circle cx="40" cy="166.2" r="2.5" fill="#8f00d4"/>
<circle cx="43.9" cy="169.4" r="2.8" fill="#8f00d4"/>
<circle cx="85.2" cy="62.7" r="2.8" fill="#9000d4"/>
<circle cx="138.9" cy="133.6" r="3.3" fill="#9000d4"/>
<circle cx="110.2" cy="74.6" r="3.7" fill="#9000d3"/>
<circle cx="67.2" cy="82.6" r="3.2" fill="#9000d3"/>
<circle cx="130.9" cy="77.9" r="3.2" fill="#9000d3"/>
<circle cx="166.2" cy="197.2" r="2.8" fill="#9200d2"/>
<circle cx="160.4" cy="192.3" r="3.1" fill="#9200d2"/>
<circle cx="135.6" cy="142.5" r="3.3" fill="#9200d2"/>
<circle cx="116.6" cy="75.3" r="3.5" fill="#9200d2"/>
<circle cx="166.6" cy="85.9" r="3.8" fill="#9200d2"/>
<circle cx="78.7" cy="213.9" r="3.6" fill="#9200d2"/>
<circle cx="48.8" cy="228.1" r="3" fill="#9200d2"/>
<circle cx="127.2" cy="77.9" r="3.4" fill="#9200d2"/>
<circle cx="74.3" cy="258.1" r="3" fill="#9200d2"/>
<circle cx="130.2" cy="157.9" r="3.5" fill="#9200d1"/>
<circle cx="156.5" cy="156.4" r="3.4" fill="#9200d1"/>
<circle cx="61.2" cy="181.5" r="3.3" fill="#9200d1"/>
<circle cx="43.3" cy="97.2" r="2.9" fill="#9300d1"/>
<circle cx="75.6" cy="205.9" r="2.9" fill="#9300d1"/>
<circle cx="65.3" cy="192.7" r="2.5" fill="#9300d0"/>
<circle cx="74.4" cy="200.4" r="2.6" fill="#9300d0"/>
<circle cx="82.4" cy="204.1" r="3" fill="#9300d0"/>
<circle cx="81.5" cy="221" r="3.3" fill="#9300cf"/>
<circle cx="70.9" cy="255.4" r="3.7" fill="#9500cd"/>
<circle cx="84.6" cy="237.8" r="3.3" fill="#9500cd"/>
<circle cx="42.5" cy="93.1" r="3.6" fill="#9500cc"/>
<circle cx="84.1" cy="238.3" r="3.3" fill="#9500cc"/>
<circle cx="163.3" cy="85.5" r="3.6" fill="#9500cc"/>
<circle cx="112.4" cy="74.7" r="3.9" fill="#9500cc"/>
<circle cx="75.4" cy="207.7" r="3.3" fill="#9500cc"/>
<circle cx="80.9" cy="51.8" r="3.4" fill="#9500cc"/>
<circle cx="99.8" cy="63.2" r="3.5" fill="#9500cc"/>
<circle cx="104.5" cy="67" r="3.1" fill="#9500cc"/>
<circle cx="84.4" cy="65.1" r="3" fill="#9500cc"/>
<circle cx="145.3" cy="150.7" r="3.3" fill="#9600cc"/>
<circle cx="48.3" cy="239.1" r="3" fill="#9600cb"/>
<circle cx="93.1" cy="253.1" r="3.6" fill="#9600cb"/>
<circle cx="70.2" cy="212.3" r="3.2" fill="#9600cb"/>
<circle cx="60.6" cy="205.2" r="3.1" fill="#9600ca"/>
<circle cx="72.4" cy="256.4" r="3.2" fill="#9600ca"/>
<circle cx="129.3" cy="78.8" r="3.8" fill="#9700ca"/>
<circle cx="133" cy="143.3" r="3.4" fill="#9700ca"/>
<circle cx="30.4" cy="102.8" r="4.1" fill="#9700ca"/>
<circle cx="102.9" cy="189.6" r="3.1" fill="#9700ca"/>
<circle cx="169" cy="85" r="3.9" fill="#9700c8"/>
<circle cx="122.4" cy="76.3" r="3.8" fill="#9700c8"/>
<circle cx="85.9" cy="240.7" r="3.2" fill="#9700c8"/>
<circle cx="101.8" cy="247" r="3.5" fill="#9800c7"/>
<circle cx="74.8" cy="202.8" r="2.9" fill="#9800c6"/>
<circle cx="59.8" cy="245" r="2.6" fill="#9900c6"/>
<circle cx="114" cy="205.6" r="3.6" fill="#9900c6"/>
<circle cx="72.3" cy="229.3" r="3.1" fill="#9900c4"/>
<circle cx="132.8" cy="157.8" r="3.1" fill="#9a00c4"/>
<circle cx="67.7" cy="252" r="3.7" fill="#9a00c4"/>
<circle cx="128.7" cy="155.6" r="3" fill="#9a00c4"/>
<circle cx="84.9" cy="170.2" r="3.2" fill="#9a00c3"/>
<circle cx="38.8" cy="178.5" r="3.1" fill="#9a00c3"/>
<circle cx="77.9" cy="209.5" r="3.1" fill="#9b00c2"/>
<circle cx="67.9" cy="53.9" r="3.3" fill="#9b00c2"/>
<circle cx="44.5" cy="182.8" r="3.1" fill="#9b00c2"/>
<circle cx="167.3" cy="191.1" r="3.4" fill="#9b00c2"/>
<circle cx="145.2" cy="145.1" r="3.3" fill="#9b00c1"/>
<circle cx="112.3" cy="224" r="3.3" fill="#9b00c1"/>
<circle cx="61.1" cy="247.8" r="2.9" fill="#9b00c1"/>
<circle cx="36" cy="174.4" r="3.6" fill="#9c00c0"/>
<circle cx="109.7" cy="210.3" r="3.6" fill="#9c00c0"/>
<circle cx="54.3" cy="187.1" r="3.1" fill="#9c00bf"/>
<circle cx="114.7" cy="71.4" r="3.2" fill="#9c00bf"/>
<circle cx="133.4" cy="79" r="2.7" fill="#9c00bf"/>
<circle cx="63.2" cy="248.4" r="3.2" fill="#9d00be"/>
<circle cx="142.2" cy="185.3" r="3" fill="#9d00be"/>
<circle cx="131.3" cy="79.7" r="2.9" fill="#9d00bd"/>
<circle cx="68.7" cy="172.2" r="2.9" fill="#9d00bd"/>
<circle cx="53.2" cy="228.8" r="3.4" fill="#9e00bd"/>
<circle cx="139.5" cy="126.6" r="2.6" fill="#9e00bc"/>
<circle cx="137.1" cy="135.9" r="3" fill="#9e00bb"/>
<circle cx="117.3" cy="170" r="3.7" fill="#9f00bb"/>
<circle cx="35.1" cy="97.7" r="3.6" fill="#9f00ba"/>
<circle cx="61.8" cy="202.9" r="3.5" fill="#9f00ba"/>
<circle cx="88.1" cy="227.6" r="3.2" fill="#a000b9"/>
<circle cx="97.7" cy="61.2" r="3.4" fill="#a000b9"/>
<circle cx="134.1" cy="52.2" r="3.2" fill="#a000b9"/>
<circle cx="141.7" cy="155.7" r="3.7" fill="#a000b8"/>
<circle cx="167.2" cy="187.9" r="3.5" fill="#a100b7"/>
<circle cx="118.9" cy="53.8" r="3.5" fill="#a100b7"/>
<circle cx="39.3" cy="158.7" r="3.5" fill="#a100b7"/>
<circle cx="73.1" cy="198.1" r="2.8" fill="#a100b7"/>
<circle cx="122.4" cy="145.7" r="3" fill="#a100b6"/>
<circle cx="113.5" cy="53" r="3.4" fill="#a100b6"/>
<circle cx="64.5" cy="169.6" r="3.1" fill="#a200b5"/>
<circle cx="166.2" cy="186.2" r="2.9" fill="#a200b5"/>
<circle cx="70.6" cy="236.1" r="3.1" fill="#a200b5"/>
<circle cx="63.9" cy="198.4" r="3.1" fill="#a200b4"/>
<circle cx="34.8" cy="172.1" r="2.7" fill="#a200b4"/>
<circle cx="16.6" cy="162.7" r="3.8" fill="#a300b3"/>
<circle cx="135.6" cy="139.6" r="3" fill="#a300b3"/>
<circle cx="86.7" cy="245" r="2.9" fill="#a300b2"/>
<circle cx="33" cy="100.1" r="3.7" fill="#a300b1"/>
<circle cx="110.1" cy="177.1" r="2.4" fill="#a400b1"/>
<circle cx="74.3" cy="257.6" r="3.4" fill="#a400af"/>
<circle cx="22.4" cy="201.4" r="4.5" fill="#a400af"/>
<circle cx="45.2" cy="162.8" r="3.4" fill="#a400ae"/>
<circle cx="68.9" cy="253.5" r="3.8" fill="#a500ae"/>
<circle cx="32" cy="168.5" r="2.9" fill="#a500ad"/>
<circle cx="69" cy="171.8" r="3.4" fill="#a500ac"/>
<circle cx="93.6" cy="213.1" r="3.3" fill="#a500ac"/>
<circle cx="60.5" cy="194.7" r="2.9" fill="#a600ab"/>
<circle cx="128.6" cy="52.2" r="3" fill="#a600ab"/>
<circle cx="126.7" cy="53.2" r="3.1" fill="#a600ab"/>
<circle cx="45.4" cy="237.8" r="3.7" fill="#a600aa"/>
<circle cx="47.4" cy="95.2" r="3.1" fill="#a600aa"/>
<circle cx="47.1" cy="225.7" r="3.3" fill="#a600aa"/>
<circle cx="17.7" cy="148.1" r="3.7" fill="#a600aa"/>
<circle cx="50.4" cy="240.3" r="3.2" fill="#a700a6"/>
<circle cx="165.8" cy="180.6" r="3.3" fill="#a800a5"/>
<circle cx="135.5" cy="82.6" r="3.5" fill="#a800a5"/>
<circle cx="49.3" cy="184.4" r="3.4" fill="#a800a4"/>
<circle cx="18.8" cy="155" r="3.9" fill="#a900a2"/>
<circle cx="102.9" cy="244.4" r="3.9" fill="#a900a2"/>
<circle cx="94.6" cy="187" r="3.2" fill="#a900a2"/>
<circle cx="107.1" cy="74.7" r="3.4" fill="#a900a2"/>
<circle cx="108.2" cy="166.2" r="2.9" fill="#a900a1"/>
<circle cx="49" cy="160.9" r="3.3" fill="#a900a1"/>
<circle cx="105.3" cy="240.1" r="3.8" fill="#a900a1"/>
<circle cx="80.6" cy="173.3" r="2.9" fill="#a900a1"/>
<circle cx="41.7" cy="140.8" r="2.9" fill="#aa00a1"/>
<circle cx="62.8" cy="167.6" r="3.2" fill="#aa00a0"/>
<circle cx="67.2" cy="252" r="3.7" fill="#aa00a0"/>
<circle cx="59.2" cy="246.3" r="3.7" fill="#aa00a0"/>
<circle cx="62.1" cy="189.4" r="3.3" fill="#aa009e"/>
<circle cx="13.5" cy="138.7" r="3.6" fill="#aa009e"/>
<circle cx="113" cy="205.5" r="3.1" fill="#aa009e"/>
<circle cx="33.1" cy="99.4" r="4.2" fill="#ab009d"/>
<circle cx="16.7" cy="146.3" r="3.1" fill="#ab009d"/>
<circle cx="57.2" cy="244.9" r="3.8" fill="#ab009d"/>
<circle cx="87.7" cy="214.5" r="3.2" fill="#ab009b"/>
<circle cx="19.6" cy="201.1" r="4.5" fill="#ac009a"/>
<circle cx="55.7" cy="229.6" r="2.7" fill="#ac0099"/>
<circle cx="62.5" cy="85.8" r="3.2" fill="#ad0097"/>
<circle cx="161.6" cy="85.6" r="4.1" fill="#ad0097"/>
<circle cx="106.4" cy="237.9" r="3.7" fill="#b2008a"/>
<circle cx="119.5" cy="76.6" r="3.6" fill="#b30087"/>
<circle cx="37.3" cy="157.4" r="3.6" fill="#b40086"/>
<circle cx="42.8" cy="161.8" r="3" fill="#b60080"/>
<circle cx="105.2" cy="190.4" r="3.5" fill="#b6007f"/>
<circle cx="55.7" cy="165.4" r="3.9" fill="#b7007e"/>
<circle cx="96.9" cy="188" r="3.7" fill="#b7007d"/>
<circle cx="47.1" cy="164.6" r="3" fill="#b8007b"/>
<circle cx="105.4" cy="190.4" r="3.7" fill="#b8007a"/>
<circle cx="106.4" cy="192.8" r="3.1" fill="#b90078"/>
<circle cx="25.3" cy="202.3" r="4.6" fill="#bb0073"/>
<circle cx="171.2" cy="85.6" r="4.2" fill="#bc0070"/>
<circle cx="16.4" cy="200.2" r="4.4" fill="#bc0070"/>
<circle cx="107.2" cy="195" r="3" fill="#bd006e"/>
<circle cx="35.3" cy="156.1" r="3.2" fill="#bd006d"/>
<circle cx="109" cy="197.8" r="3.8" fill="#bd006c"/>
<circle cx="47.3" cy="165" r="3" fill="#bd006c"/>
<circle cx="66.5" cy="170.8" r="3.8" fill="#bf0067"/>
<circle cx="110.2" cy="200.3" r="3.7" fill="#bf0067"/>
<circle cx="52.2" cy="165.9" r="3.7" fill="#c20061"/>
<circle cx="99.4" cy="188.4" r="3.5" fill="#c2005f"/>
<circle cx="61.1" cy="166.2" r="3.1" fill="#c3005e"/>
<circle cx="104.4" cy="242.4" r="2.9" fill="#c3005e"/>
<circle cx="41.2" cy="160.1" r="3.7" fill="#c3005d"/>
<circle cx="57.6" cy="166" r="3.9" fill="#c4015a"/>
<circle cx="60.7" cy="166.9" r="3.1" fill="#c60357"/>
<circle cx="33.6" cy="154.6" r="3" fill="#c70454"/>
<circle cx="71" cy="173.7" r="3.5" fill="#c80650"/>
<circle cx="42" cy="86" r="3.7" fill="#cb094b"/>
<circle cx="18.1" cy="200.5" r="4.7" fill="#cb094b"/>
<circle cx="50.2" cy="165.6" r="3" fill="#cc0b47"/>
<circle cx="69.2" cy="54.5" r="4.5" fill="#d71e29"/>
<circle cx="161.2" cy="85.1" r="4.1" fill="#d71e29"/>
<circle cx="151" cy="189.5" r="6.6" fill="#d71e29"/>
<circle cx="122" cy="55.3" r="5.6" fill="#e43707"/>
<circle cx="118.6" cy="81.7" r="5.6" fill="#e43707"/>
<circle cx="93.1" cy="185.2" r="5.6" fill="#e43707"/>
<circle cx="163.8" cy="154.5" r="4.1" fill="#e43707"/>
<circle cx="93.9" cy="234.6" r="3.7" fill="#e43707"/>
<circle cx="127.1" cy="84.3" r="5.6" fill="#ea4402"/>
<circle cx="67.5" cy="72.3" r="5.6" fill="#f15100"/>
<circle cx="50.5" cy="80.9" r="5.6" fill="#f15100"/>
<circle cx="104.2" cy="206.5" r="5.2" fill="#f15100"/>
<circle cx="60.7" cy="80.9" r="5.6" fill="#fd6900"/>
<circle cx="157.8" cy="103" r="6.4" fill="#fd6900"/>
<circle cx="160.4" cy="113.2" r="6.4" fill="#fd6900"/>
<circle cx="22.4" cy="121.7" r="6.4" fill="#fd6900"/>
<circle cx="107.6" cy="192" r="4.7" fill="#fd6900"/>
<circle cx="171.4" cy="173.3" r="4.7" fill="#fd6900"/>
<circle cx="113.5" cy="225.2" r="5.2" fill="#fd6900"/>
<circle cx="82" cy="251.6" r="5.6" fill="#fd6900"/>
<circle cx="162.1" cy="133.7" r="6" fill="#fe7200"/>
<circle cx="33.5" cy="149.4" r="6.6" fill="#fe7200"/>
<circle cx="162.1" cy="123.4" r="6.7" fill="#ff7b00"/>
<circle cx="49.6" cy="219.3" r="5.6" fill="#ff7b00"/>
<circle cx="88.8" cy="202.2" r="6.6" fill="#ff7b00"/>
<circle cx="161.2" cy="145.2" r="5.6" fill="#ff7b00"/>
<circle cx="162.1" cy="135.8" r="4.9" fill="#ff7b00"/>
<circle cx="118.6" cy="215.9" r="6.6" fill="#ff7b00"/>
<circle cx="96.5" cy="226.1" r="6.6" fill="#ff7b00"/>
<circle cx="58.2" cy="72.3" r="6.6" fill="#ff8c00"/>
<circle cx="140.8" cy="86.8" r="6.7" fill="#ff8c00"/>
<circle cx="24.9" cy="106.4" r="7.5" fill="#ff8c00"/>
<circle cx="20.7" cy="169" r="6.6" fill="#ff8c00"/>
<circle cx="126.3" cy="179.2" r="6.6" fill="#ff8c00"/>
<circle cx="152.7" cy="174.1" r="7.5" fill="#ff8c00"/>
<circle cx="163.8" cy="173.3" r="7.5" fill="#ff8c00"/>
<circle cx="155.3" cy="95.3" r="6.7" fill="#ff9400"/>
<circle cx="78.6" cy="180.1" r="10.9" fill="#ff9400"/>
<circle cx="84.6" cy="48.5" r="4.7" fill="#ff9c00"/>
<circle cx="99" cy="48.2" r="4.7" fill="#ff9c00"/>
<circle cx="23.2" cy="133.7" r="7.5" fill="#ff9c00"/>
<circle cx="24.1" cy="137.5" r="8.4" fill="#ff9c00"/>
<circle cx="24.9" cy="176.7" r="7.5" fill="#ff9c00"/>
<circle cx="41.1" cy="200.5" r="9.7" fill="#ff9c00"/>
<circle cx="116.9" cy="192" r="7.5" fill="#ff9c00"/>
<circle cx="135.7" cy="172.4" r="7.5" fill="#ff9c00"/>
<circle cx="30.1" cy="188.6" r="9.7" fill="#ffa400"/>
<circle cx="151" cy="88.5" r="8.6" fill="#ffa400"/>
<circle cx="153.5" cy="205.6" r="11.6" fill="#ffa600"/>
<circle cx="69.2" cy="222.7" r="7.5" fill="#ffac00"/>
<circle cx="74.3" cy="236.3" r="5.6" fill="#ffac00"/>
<circle cx="35.2" cy="194.6" r="10.9" fill="#ffac00"/>
<circle cx="131.4" cy="198" r="12.9" fill="#ffac00"/>
<circle cx="126.3" cy="199.7" r="10.9" fill="#ffac00"/>
<circle cx="82.9" cy="73.2" r="7.9" fill="#ffb500"/>
<circle cx="93.1" cy="73.2" r="7.9" fill="#ffb500"/>
<circle cx="47.1" cy="209" r="7.5" fill="#ffb500"/>
<circle cx="67.5" cy="234.6" r="9.4" fill="#ffbd00"/>
<circle cx="90.5" cy="45.1" r="9" fill="#ffcf00"/>
<circle cx="78.6" cy="180.1" r="9.7" fill="#ffdf00"/>
<circle cx="90.5" cy="28.9" r="8.2" fill="#ffe700"/>
<circle cx="41.1" cy="200.5" r="8.6" fill="#ffe700"/>
<circle cx="153.5" cy="205.6" r="10.2" fill="#ffe900"/>
<circle cx="91" cy="37.4" r="9" fill="#fff00e"/>
<circle cx="30.1" cy="188.6" r="8.6" fill="#fff00e"/>
<circle cx="131.4" cy="198" r="11.3" fill="#fff00e"/>
<circle cx="126.3" cy="199.7" r="9.6" fill="#fff00e"/>
<circle cx="35.2" cy="194.6" r="9.7" fill="#fff822"/>
<circle cx="153.5" cy="205.6" r="8.8" fill="#fffff0"/>
<circle cx="131.4" cy="198" r="9.7" fill="#ffffff"/>
<circle cx="126.3" cy="199.7" r="8.2" fill="#ffffff"/>
</g></g>
<defs><linearGradient id="fireg" x1="0" y1="1" x2="0" y2="0">
<stop offset="0.000" stop-color="#000000"/>
<stop offset="0.032" stop-color="#00003d"/>
<stop offset="0.065" stop-color="#010060"/>
<stop offset="0.097" stop-color="#190082"/>
<stop offset="0.129" stop-color="#3100a5"/>
<stop offset="0.161" stop-color="#4900c0"/>
<stop offset="0.194" stop-color="#6200dc"/>
<stop offset="0.226" stop-color="#7a00e3"/>
<stop offset="0.258" stop-color="#9200d2"/>
<stop offset="0.290" stop-color="#a200b5"/>
<stop offset="0.323" stop-color="#ad0097"/>
<stop offset="0.355" stop-color="#b8007a"/>
<stop offset="0.387" stop-color="#c3005d"/>
<stop offset="0.419" stop-color="#cf0e40"/>
<stop offset="0.452" stop-color="#d92323"/>
<stop offset="0.484" stop-color="#e53905"/>
<stop offset="0.516" stop-color="#f04f00"/>
<stop offset="0.548" stop-color="#fc6500"/>
<stop offset="0.581" stop-color="#ff7500"/>
<stop offset="0.613" stop-color="#ff8500"/>
<stop offset="0.645" stop-color="#ff9300"/>
<stop offset="0.677" stop-color="#ffa100"/>
<stop offset="0.710" stop-color="#ffaf00"/>
<stop offset="0.742" stop-color="#ffbe00"/>
<stop offset="0.774" stop-color="#ffcd00"/>
<stop offset="0.806" stop-color="#ffdb00"/>
<stop offset="0.839" stop-color="#ffea00"/>
<stop offset="0.871" stop-color="#fff823"/>
<stop offset="0.903" stop-color="#ffff62"/>
<stop offset="0.935" stop-color="#ffffa0"/>
<stop offset="0.968" stop-color="#ffffdf"/>
<stop offset="1.000" stop-color="#ffffff"/>
</linearGradient></defs>
<rect x="1849.6" y="530" width="12.6" height="140" fill="url(#fireg)"/>
<text transform="translate(1868 531.2) scale(1 1.12)" font-size="10.6" fill="#dcdcdc" font-family='"DejaVu Sans", sans-serif'>2.7</text>
<text transform="translate(1868 566.4) scale(1 1.12)" font-size="10.6" fill="#dcdcdc" font-family='"DejaVu Sans", sans-serif'>2.1</text>
<text transform="translate(1868 602.2) scale(1 1.12)" font-size="10.6" fill="#dcdcdc" font-family='"DejaVu Sans", sans-serif'>1.4</text>
<text transform="translate(1868 638.6) scale(1 1.12)" font-size="10.6" fill="#dcdcdc" font-family='"DejaVu Sans", sans-serif'>0.7</text>
<text transform="translate(1868 674.5) scale(1 1.12)" font-size="10.6" fill="#dcdcdc" font-family='"DejaVu Sans", sans-serif'>0.0</text>
</svg>
</body>
</html>
